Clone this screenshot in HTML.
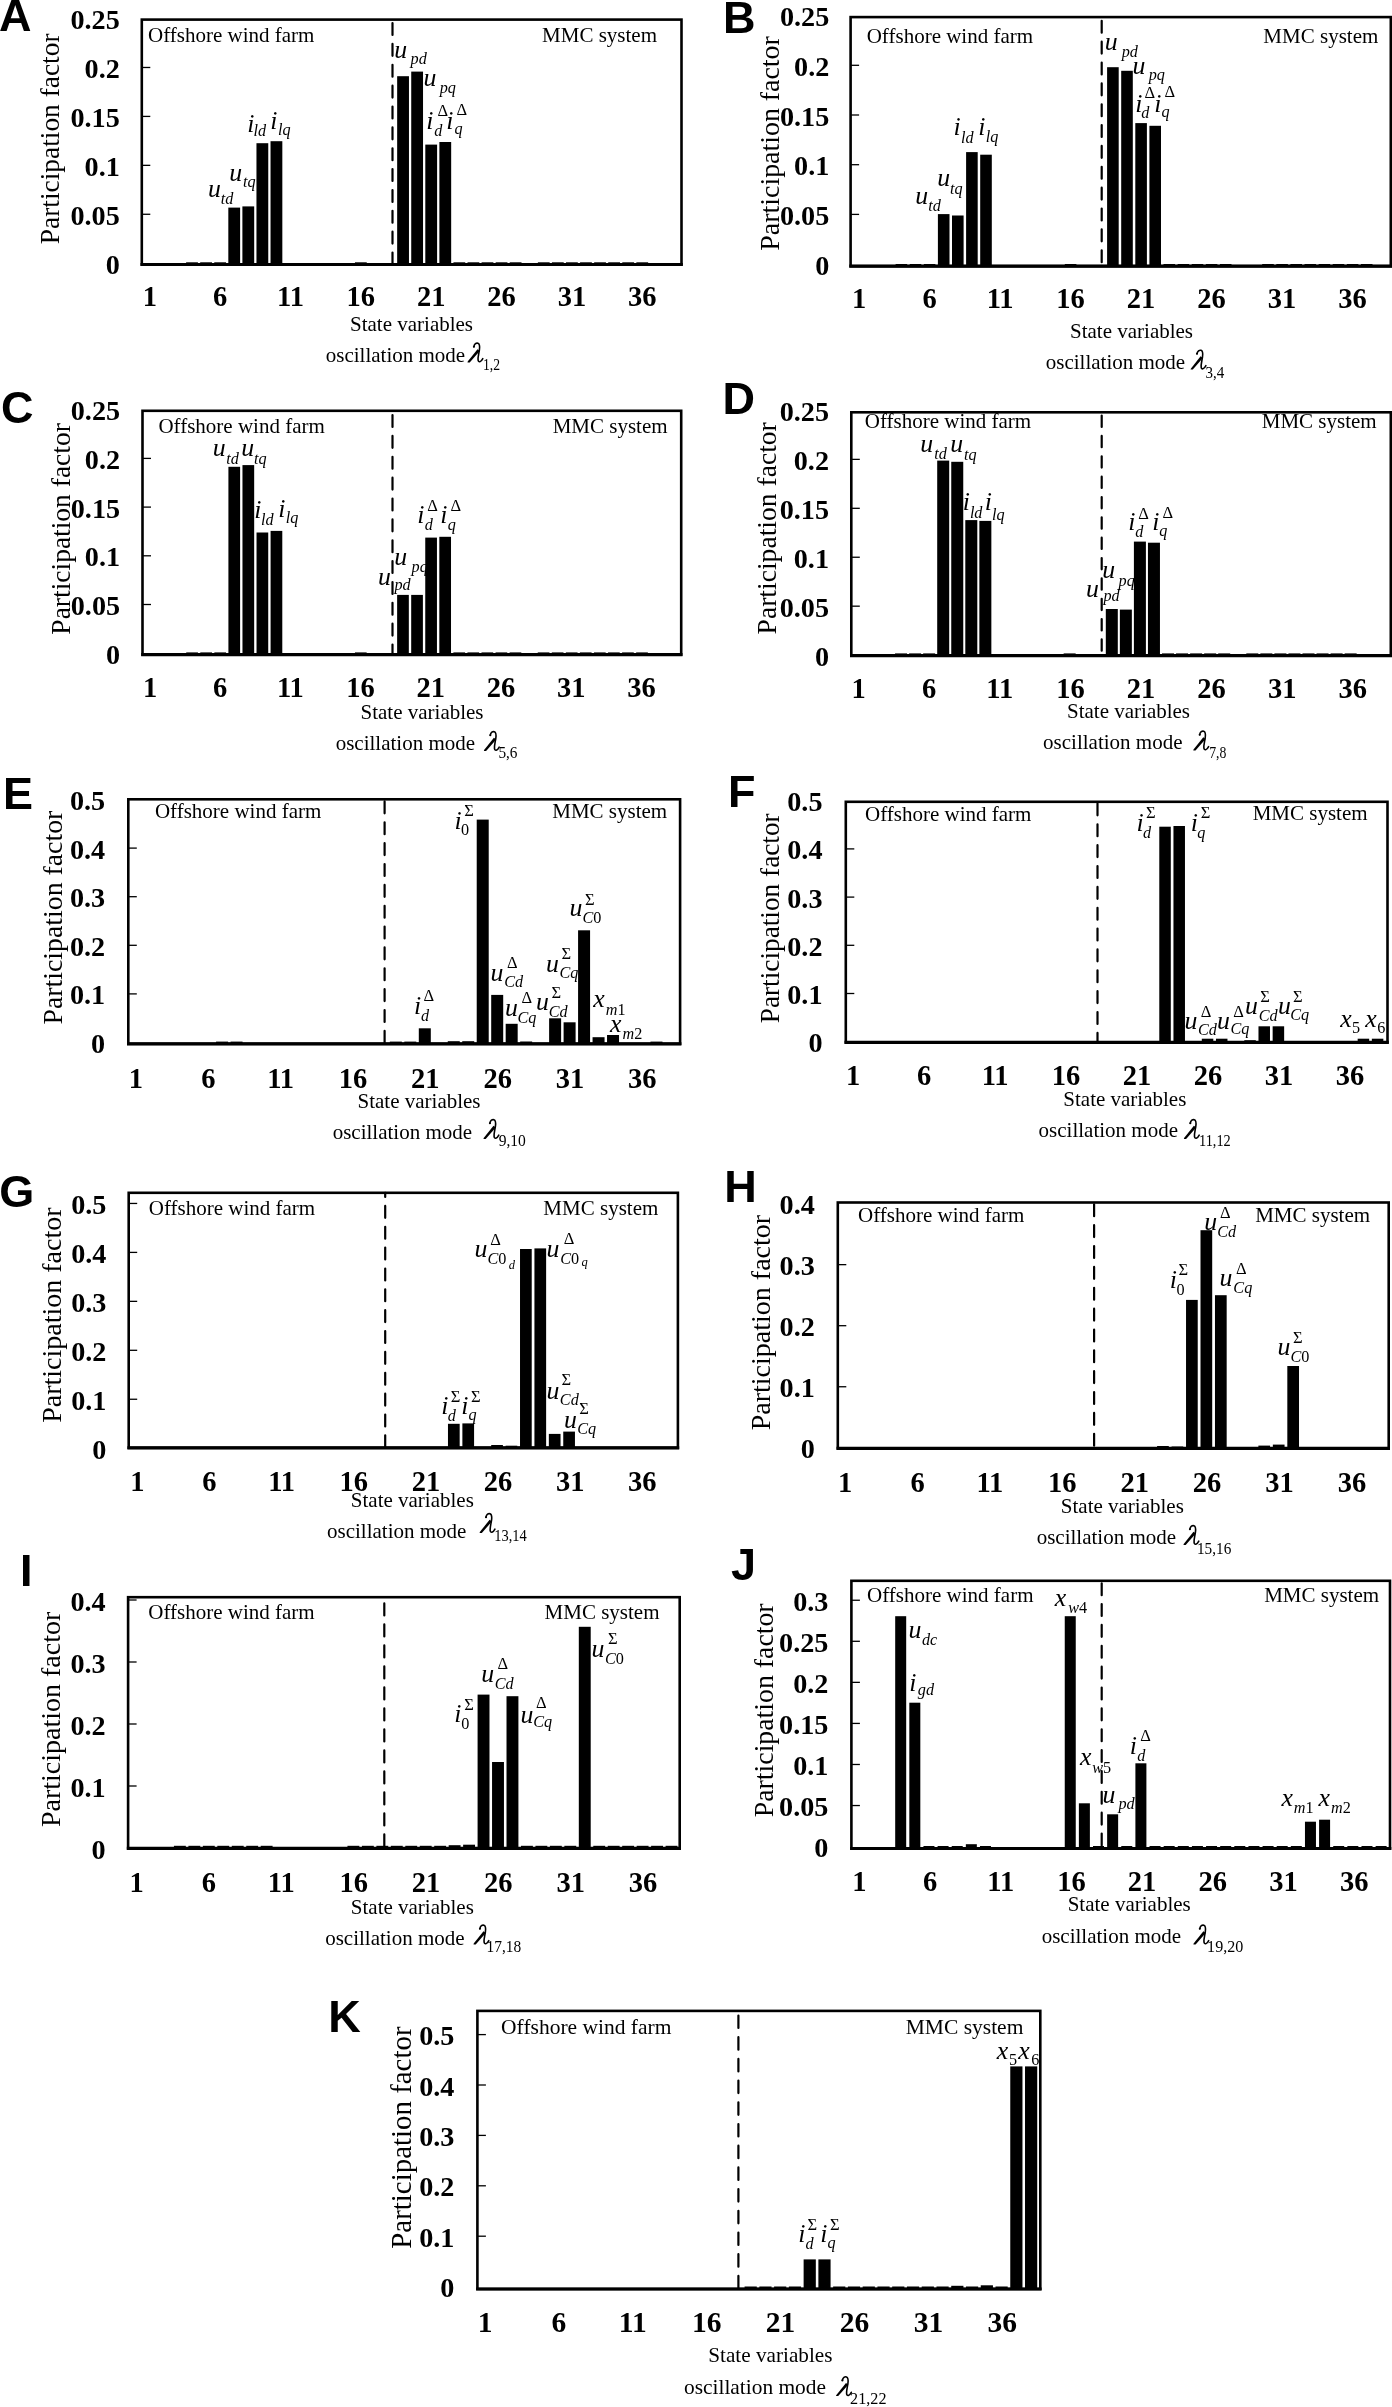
<!DOCTYPE html>
<html><head><meta charset="utf-8"><style>
html,body{margin:0;padding:0;background:#fff;width:1392px;height:2407px;overflow:hidden;}
svg{display:block;filter:grayscale(1);}
text{fill:#000;}
</style></head><body>
<svg width="1392" height="2407" viewBox="0 0 1392 2407">
<rect x="0" y="0" width="1392" height="2407" fill="#fff"/>
<rect x="228.32" y="207.60" width="11.80" height="56.90"/>
<rect x="242.39" y="206.40" width="11.80" height="58.10"/>
<rect x="256.46" y="143.20" width="11.80" height="121.30"/>
<rect x="270.53" y="141.20" width="11.80" height="123.30"/>
<rect x="397.16" y="76.20" width="11.80" height="188.30"/>
<rect x="411.23" y="71.60" width="11.80" height="192.90"/>
<rect x="425.30" y="144.60" width="11.80" height="119.90"/>
<rect x="439.37" y="142.00" width="11.80" height="122.50"/>
<rect x="186.11" y="262.30" width="11.80" height="2.20"/>
<rect x="200.18" y="262.30" width="11.80" height="2.20"/>
<rect x="214.25" y="262.30" width="11.80" height="2.20"/>
<rect x="354.95" y="262.30" width="11.80" height="2.20"/>
<rect x="453.44" y="262.30" width="11.80" height="2.20"/>
<rect x="467.51" y="262.30" width="11.80" height="2.20"/>
<rect x="481.58" y="262.30" width="11.80" height="2.20"/>
<rect x="495.65" y="262.30" width="11.80" height="2.20"/>
<rect x="509.72" y="262.30" width="11.80" height="2.20"/>
<rect x="537.86" y="262.30" width="11.80" height="2.20"/>
<rect x="551.93" y="262.30" width="11.80" height="2.20"/>
<rect x="566.00" y="262.30" width="11.80" height="2.20"/>
<rect x="580.07" y="262.30" width="11.80" height="2.20"/>
<rect x="594.14" y="262.30" width="11.80" height="2.20"/>
<rect x="608.21" y="262.30" width="11.80" height="2.20"/>
<rect x="622.28" y="262.30" width="11.80" height="2.20"/>
<rect x="636.35" y="262.30" width="11.80" height="2.20"/>
<rect x="141.80" y="19.60" width="539.70" height="244.90" fill="none" stroke="#000" stroke-width="2.6"/>
<line x1="140.50" y1="264.50" x2="682.80" y2="264.50" stroke="#000" stroke-width="3.2"/>
<text x="119.80" y="273.70" font-size="28.2" style="font-family:'Liberation Serif';font-weight:bold;" text-anchor="end">0</text>
<line x1="141.80" y1="214.27" x2="150.30" y2="214.27" stroke="#000" stroke-width="1.3"/>
<text x="119.80" y="224.77" font-size="28.2" style="font-family:'Liberation Serif';font-weight:bold;" text-anchor="end">0.05</text>
<line x1="141.80" y1="165.34" x2="150.30" y2="165.34" stroke="#000" stroke-width="1.3"/>
<text x="119.80" y="175.84" font-size="28.2" style="font-family:'Liberation Serif';font-weight:bold;" text-anchor="end">0.1</text>
<line x1="141.80" y1="116.41" x2="150.30" y2="116.41" stroke="#000" stroke-width="1.3"/>
<text x="119.80" y="126.91" font-size="28.2" style="font-family:'Liberation Serif';font-weight:bold;" text-anchor="end">0.15</text>
<line x1="141.80" y1="67.48" x2="150.30" y2="67.48" stroke="#000" stroke-width="1.3"/>
<text x="119.80" y="77.98" font-size="28.2" style="font-family:'Liberation Serif';font-weight:bold;" text-anchor="end">0.2</text>
<text x="119.80" y="29.05" font-size="28.2" style="font-family:'Liberation Serif';font-weight:bold;" text-anchor="end">0.25</text>
<text x="149.80" y="306.00" font-size="28.5" style="font-family:'Liberation Serif';font-weight:bold;" text-anchor="middle">1</text>
<text x="220.15" y="306.00" font-size="28.5" style="font-family:'Liberation Serif';font-weight:bold;" text-anchor="middle">6</text>
<text x="290.50" y="306.00" font-size="28.5" style="font-family:'Liberation Serif';font-weight:bold;" text-anchor="middle">11</text>
<text x="360.85" y="306.00" font-size="28.5" style="font-family:'Liberation Serif';font-weight:bold;" text-anchor="middle">16</text>
<text x="431.20" y="306.00" font-size="28.5" style="font-family:'Liberation Serif';font-weight:bold;" text-anchor="middle">21</text>
<text x="501.55" y="306.00" font-size="28.5" style="font-family:'Liberation Serif';font-weight:bold;" text-anchor="middle">26</text>
<text x="571.90" y="306.00" font-size="28.5" style="font-family:'Liberation Serif';font-weight:bold;" text-anchor="middle">31</text>
<text x="642.25" y="306.00" font-size="28.5" style="font-family:'Liberation Serif';font-weight:bold;" text-anchor="middle">36</text>
<line x1="392.50" y1="19.60" x2="392.50" y2="264.50" stroke="#000" stroke-width="2.2" stroke-linecap="round" stroke-dasharray="11.9 8.96" stroke-dashoffset="17.36"/>
<text x="-1.00" y="31.00" font-size="45" style="font-family:'Liberation Sans';font-weight:bold;">A</text>
<text transform="translate(59.30,138.80) rotate(-90)" x="0" y="0" font-size="27.4" text-anchor="middle" style="font-family:'Liberation Serif'">Participation factor</text>
<text x="148.00" y="42.00" font-size="21" style="font-family:'Liberation Serif';">Offshore wind farm</text>
<text x="657.00" y="42.00" font-size="21" style="font-family:'Liberation Serif';" text-anchor="end">MMC system</text>
<text x="350.00" y="331.00" font-size="21" style="font-family:'Liberation Serif';">State variables</text>
<text x="325.80" y="361.60" font-size="21" style="font-family:'Liberation Serif';">oscillation mode</text>
<g transform="translate(467.60,362.50) scale(1.000)"><path d="M 6.3 -15.9 C 6.7 -18.5, 8.7 -19.8, 10.3 -19.3 C 12.0 -18.7, 12.3 -16.0, 11.8 -12.6 C 11.2 -8.6, 10.1 -5.0, 10.5 -2.3 C 10.9 0.1, 13.2 -0.1, 15.2 -3.9" fill="none" stroke="#000" stroke-width="1.6" stroke-linecap="round"/><path d="M 9.9 -13.3 L 12.2 -11.5 L 2.1 -0.1 L -0.1 -0.1 L 0.1 -0.9 Z" fill="#000"/><circle cx="6.3" cy="-15.8" r="1.05" fill="#000"/></g>
<text x="483.00" y="369.60" font-size="16.5" style="font-family:'Liberation Serif';" textLength="17.1" lengthAdjust="spacingAndGlyphs">1,2</text>
<text x="208.11" y="196.50" font-size="25.8" style="font-family:'Liberation Serif';font-style:italic;">u</text>
<text x="220.85" y="203.70" font-size="16.2" style="font-family:'Liberation Serif';font-style:italic;">td</text>
<text x="229.31" y="180.50" font-size="25.8" style="font-family:'Liberation Serif';font-style:italic;">u</text>
<text x="243.05" y="186.50" font-size="16.2" style="font-family:'Liberation Serif';font-style:italic;">tq</text>
<text x="247.15" y="131.50" font-size="25.8" style="font-family:'Liberation Serif';font-style:italic;">i</text>
<text x="253.49" y="136.30" font-size="16.2" style="font-family:'Liberation Serif';font-style:italic;">ld</text>
<text x="270.25" y="128.50" font-size="25.8" style="font-family:'Liberation Serif';font-style:italic;">i</text>
<text x="278.09" y="135.30" font-size="16.2" style="font-family:'Liberation Serif';font-style:italic;">lq</text>
<text x="394.21" y="57.80" font-size="25.8" style="font-family:'Liberation Serif';font-style:italic;">u</text>
<text x="410.57" y="63.80" font-size="16.2" style="font-family:'Liberation Serif';font-style:italic;">pd</text>
<text x="423.41" y="86.00" font-size="25.8" style="font-family:'Liberation Serif';font-style:italic;">u</text>
<text x="439.77" y="93.00" font-size="16.2" style="font-family:'Liberation Serif';font-style:italic;">pq</text>
<text x="426.15" y="128.50" font-size="25.8" style="font-family:'Liberation Serif';font-style:italic;">i</text>
<text x="434.31" y="135.60" font-size="16.2" style="font-family:'Liberation Serif';font-style:italic;">d</text>
<text x="437.40" y="116.40" font-size="16.5" style="font-family:'Liberation Serif';">&#916;</text>
<text x="446.25" y="128.50" font-size="25.8" style="font-family:'Liberation Serif';font-style:italic;">i</text>
<text x="454.41" y="134.30" font-size="16.2" style="font-family:'Liberation Serif';font-style:italic;">q</text>
<text x="456.50" y="115.40" font-size="16.5" style="font-family:'Liberation Serif';">&#916;</text>
<rect x="937.90" y="214.10" width="11.60" height="52.10"/>
<rect x="952.00" y="215.50" width="11.60" height="50.70"/>
<rect x="966.10" y="152.10" width="11.60" height="114.10"/>
<rect x="980.20" y="154.70" width="11.60" height="111.50"/>
<rect x="1107.10" y="67.20" width="11.60" height="199.00"/>
<rect x="1121.20" y="70.80" width="11.60" height="195.40"/>
<rect x="1135.30" y="123.10" width="11.60" height="143.10"/>
<rect x="1149.40" y="125.80" width="11.60" height="140.40"/>
<rect x="895.60" y="264.00" width="11.60" height="2.20"/>
<rect x="909.70" y="264.00" width="11.60" height="2.20"/>
<rect x="923.80" y="264.00" width="11.60" height="2.20"/>
<rect x="1064.80" y="264.00" width="11.60" height="2.20"/>
<rect x="1163.50" y="264.00" width="11.60" height="2.20"/>
<rect x="1177.60" y="264.00" width="11.60" height="2.20"/>
<rect x="1191.70" y="264.00" width="11.60" height="2.20"/>
<rect x="1205.80" y="264.00" width="11.60" height="2.20"/>
<rect x="1219.90" y="264.00" width="11.60" height="2.20"/>
<rect x="1262.20" y="264.00" width="11.60" height="2.20"/>
<rect x="1276.30" y="264.00" width="11.60" height="2.20"/>
<rect x="1290.40" y="264.00" width="11.60" height="2.20"/>
<rect x="1304.50" y="264.00" width="11.60" height="2.20"/>
<rect x="1318.60" y="264.00" width="11.60" height="2.20"/>
<rect x="1332.70" y="264.00" width="11.60" height="2.20"/>
<rect x="1346.80" y="264.00" width="11.60" height="2.20"/>
<rect x="1360.90" y="264.00" width="11.60" height="2.20"/>
<rect x="850.60" y="17.10" width="540.20" height="249.10" fill="none" stroke="#000" stroke-width="2.6"/>
<line x1="849.30" y1="266.20" x2="1392.10" y2="266.20" stroke="#000" stroke-width="3.2"/>
<text x="829.30" y="274.60" font-size="28.2" style="font-family:'Liberation Serif';font-weight:bold;" text-anchor="end">0</text>
<line x1="850.60" y1="214.40" x2="859.10" y2="214.40" stroke="#000" stroke-width="1.3"/>
<text x="829.30" y="224.90" font-size="28.2" style="font-family:'Liberation Serif';font-weight:bold;" text-anchor="end">0.05</text>
<line x1="850.60" y1="164.70" x2="859.10" y2="164.70" stroke="#000" stroke-width="1.3"/>
<text x="829.30" y="175.20" font-size="28.2" style="font-family:'Liberation Serif';font-weight:bold;" text-anchor="end">0.1</text>
<line x1="850.60" y1="115.00" x2="859.10" y2="115.00" stroke="#000" stroke-width="1.3"/>
<text x="829.30" y="125.50" font-size="28.2" style="font-family:'Liberation Serif';font-weight:bold;" text-anchor="end">0.15</text>
<line x1="850.60" y1="65.30" x2="859.10" y2="65.30" stroke="#000" stroke-width="1.3"/>
<text x="829.30" y="75.80" font-size="28.2" style="font-family:'Liberation Serif';font-weight:bold;" text-anchor="end">0.2</text>
<text x="829.30" y="26.10" font-size="28.2" style="font-family:'Liberation Serif';font-weight:bold;" text-anchor="end">0.25</text>
<text x="859.10" y="307.50" font-size="28.5" style="font-family:'Liberation Serif';font-weight:bold;" text-anchor="middle">1</text>
<text x="929.60" y="307.50" font-size="28.5" style="font-family:'Liberation Serif';font-weight:bold;" text-anchor="middle">6</text>
<text x="1000.10" y="307.50" font-size="28.5" style="font-family:'Liberation Serif';font-weight:bold;" text-anchor="middle">11</text>
<text x="1070.60" y="307.50" font-size="28.5" style="font-family:'Liberation Serif';font-weight:bold;" text-anchor="middle">16</text>
<text x="1141.10" y="307.50" font-size="28.5" style="font-family:'Liberation Serif';font-weight:bold;" text-anchor="middle">21</text>
<text x="1211.60" y="307.50" font-size="28.5" style="font-family:'Liberation Serif';font-weight:bold;" text-anchor="middle">26</text>
<text x="1282.10" y="307.50" font-size="28.5" style="font-family:'Liberation Serif';font-weight:bold;" text-anchor="middle">31</text>
<text x="1352.60" y="307.50" font-size="28.5" style="font-family:'Liberation Serif';font-weight:bold;" text-anchor="middle">36</text>
<line x1="1101.70" y1="17.10" x2="1101.70" y2="266.20" stroke="#000" stroke-width="2.2" stroke-linecap="round" stroke-dasharray="11.9 8.96" stroke-dashoffset="17.16"/>
<text x="722.90" y="33.00" font-size="45" style="font-family:'Liberation Sans';font-weight:bold;">B</text>
<text transform="translate(778.90,143.40) rotate(-90)" x="0" y="0" font-size="27.9" text-anchor="middle" style="font-family:'Liberation Serif'">Participation factor</text>
<text x="866.70" y="43.40" font-size="21" style="font-family:'Liberation Serif';">Offshore wind farm</text>
<text x="1378.30" y="43.30" font-size="21" style="font-family:'Liberation Serif';" text-anchor="end">MMC system</text>
<text x="1070.00" y="337.50" font-size="21" style="font-family:'Liberation Serif';">State variables</text>
<text x="1045.80" y="368.50" font-size="21" style="font-family:'Liberation Serif';">oscillation mode</text>
<g transform="translate(1190.70,369.60) scale(1.000)"><path d="M 6.3 -15.9 C 6.7 -18.5, 8.7 -19.8, 10.3 -19.3 C 12.0 -18.7, 12.3 -16.0, 11.8 -12.6 C 11.2 -8.6, 10.1 -5.0, 10.5 -2.3 C 10.9 0.1, 13.2 -0.1, 15.2 -3.9" fill="none" stroke="#000" stroke-width="1.6" stroke-linecap="round"/><path d="M 9.9 -13.3 L 12.2 -11.5 L 2.1 -0.1 L -0.1 -0.1 L 0.1 -0.9 Z" fill="#000"/><circle cx="6.3" cy="-15.8" r="1.05" fill="#000"/></g>
<text x="1205.50" y="378.00" font-size="16.5" style="font-family:'Liberation Serif';" textLength="18.8" lengthAdjust="spacingAndGlyphs">3,4</text>
<text x="915.21" y="203.60" font-size="25.8" style="font-family:'Liberation Serif';font-style:italic;">u</text>
<text x="928.35" y="210.80" font-size="16.2" style="font-family:'Liberation Serif';font-style:italic;">td</text>
<text x="937.31" y="186.00" font-size="25.8" style="font-family:'Liberation Serif';font-style:italic;">u</text>
<text x="950.05" y="194.00" font-size="16.2" style="font-family:'Liberation Serif';font-style:italic;">tq</text>
<text x="953.55" y="135.40" font-size="25.8" style="font-family:'Liberation Serif';font-style:italic;">i</text>
<text x="960.99" y="142.50" font-size="16.2" style="font-family:'Liberation Serif';font-style:italic;">ld</text>
<text x="978.35" y="134.60" font-size="25.8" style="font-family:'Liberation Serif';font-style:italic;">i</text>
<text x="985.69" y="141.50" font-size="16.2" style="font-family:'Liberation Serif';font-style:italic;">lq</text>
<text x="1104.71" y="49.80" font-size="25.8" style="font-family:'Liberation Serif';font-style:italic;">u</text>
<text x="1121.67" y="57.00" font-size="16.2" style="font-family:'Liberation Serif';font-style:italic;">pd</text>
<text x="1132.51" y="73.60" font-size="25.8" style="font-family:'Liberation Serif';font-style:italic;">u</text>
<text x="1148.77" y="80.00" font-size="16.2" style="font-family:'Liberation Serif';font-style:italic;">pq</text>
<text x="1135.25" y="112.30" font-size="25.8" style="font-family:'Liberation Serif';font-style:italic;">i</text>
<text x="1141.31" y="118.30" font-size="16.2" style="font-family:'Liberation Serif';font-style:italic;">d</text>
<text x="1144.40" y="98.00" font-size="16.5" style="font-family:'Liberation Serif';">&#916;</text>
<text x="1154.35" y="111.50" font-size="25.8" style="font-family:'Liberation Serif';font-style:italic;">i</text>
<text x="1161.41" y="117.00" font-size="16.2" style="font-family:'Liberation Serif';font-style:italic;">q</text>
<text x="1164.50" y="97.40" font-size="16.5" style="font-family:'Liberation Serif';">&#916;</text>
<rect x="228.41" y="466.80" width="11.70" height="187.80"/>
<rect x="242.47" y="465.10" width="11.70" height="189.50"/>
<rect x="256.53" y="532.50" width="11.70" height="122.10"/>
<rect x="270.59" y="530.90" width="11.70" height="123.70"/>
<rect x="397.13" y="594.90" width="11.70" height="59.70"/>
<rect x="411.19" y="594.90" width="11.70" height="59.70"/>
<rect x="425.25" y="537.60" width="11.70" height="117.00"/>
<rect x="439.31" y="536.80" width="11.70" height="117.80"/>
<rect x="186.23" y="652.40" width="11.70" height="2.20"/>
<rect x="200.29" y="652.40" width="11.70" height="2.20"/>
<rect x="214.35" y="652.40" width="11.70" height="2.20"/>
<rect x="354.95" y="652.40" width="11.70" height="2.20"/>
<rect x="453.37" y="652.40" width="11.70" height="2.20"/>
<rect x="467.43" y="652.40" width="11.70" height="2.20"/>
<rect x="481.49" y="652.40" width="11.70" height="2.20"/>
<rect x="495.55" y="652.40" width="11.70" height="2.20"/>
<rect x="509.61" y="652.40" width="11.70" height="2.20"/>
<rect x="537.73" y="652.40" width="11.70" height="2.20"/>
<rect x="551.79" y="652.40" width="11.70" height="2.20"/>
<rect x="565.85" y="652.40" width="11.70" height="2.20"/>
<rect x="579.91" y="652.40" width="11.70" height="2.20"/>
<rect x="593.97" y="652.40" width="11.70" height="2.20"/>
<rect x="608.03" y="652.40" width="11.70" height="2.20"/>
<rect x="622.09" y="652.40" width="11.70" height="2.20"/>
<rect x="636.15" y="652.40" width="11.70" height="2.20"/>
<rect x="142.50" y="410.80" width="538.70" height="243.80" fill="none" stroke="#000" stroke-width="2.6"/>
<line x1="141.20" y1="654.60" x2="682.50" y2="654.60" stroke="#000" stroke-width="3.2"/>
<text x="120.10" y="663.70" font-size="28.2" style="font-family:'Liberation Serif';font-weight:bold;" text-anchor="end">0</text>
<line x1="142.50" y1="604.50" x2="151.00" y2="604.50" stroke="#000" stroke-width="1.3"/>
<text x="120.10" y="615.00" font-size="28.2" style="font-family:'Liberation Serif';font-weight:bold;" text-anchor="end">0.05</text>
<line x1="142.50" y1="555.80" x2="151.00" y2="555.80" stroke="#000" stroke-width="1.3"/>
<text x="120.10" y="566.30" font-size="28.2" style="font-family:'Liberation Serif';font-weight:bold;" text-anchor="end">0.1</text>
<line x1="142.50" y1="507.10" x2="151.00" y2="507.10" stroke="#000" stroke-width="1.3"/>
<text x="120.10" y="517.60" font-size="28.2" style="font-family:'Liberation Serif';font-weight:bold;" text-anchor="end">0.15</text>
<line x1="142.50" y1="458.40" x2="151.00" y2="458.40" stroke="#000" stroke-width="1.3"/>
<text x="120.10" y="468.90" font-size="28.2" style="font-family:'Liberation Serif';font-weight:bold;" text-anchor="end">0.2</text>
<text x="120.10" y="420.20" font-size="28.2" style="font-family:'Liberation Serif';font-weight:bold;" text-anchor="end">0.25</text>
<text x="150.00" y="697.00" font-size="28.5" style="font-family:'Liberation Serif';font-weight:bold;" text-anchor="middle">1</text>
<text x="220.20" y="697.00" font-size="28.5" style="font-family:'Liberation Serif';font-weight:bold;" text-anchor="middle">6</text>
<text x="290.40" y="697.00" font-size="28.5" style="font-family:'Liberation Serif';font-weight:bold;" text-anchor="middle">11</text>
<text x="360.60" y="697.00" font-size="28.5" style="font-family:'Liberation Serif';font-weight:bold;" text-anchor="middle">16</text>
<text x="430.80" y="697.00" font-size="28.5" style="font-family:'Liberation Serif';font-weight:bold;" text-anchor="middle">21</text>
<text x="501.00" y="697.00" font-size="28.5" style="font-family:'Liberation Serif';font-weight:bold;" text-anchor="middle">26</text>
<text x="571.20" y="697.00" font-size="28.5" style="font-family:'Liberation Serif';font-weight:bold;" text-anchor="middle">31</text>
<text x="641.40" y="697.00" font-size="28.5" style="font-family:'Liberation Serif';font-weight:bold;" text-anchor="middle">36</text>
<line x1="392.50" y1="410.80" x2="392.50" y2="654.60" stroke="#000" stroke-width="2.2" stroke-linecap="round" stroke-dasharray="11.9 8.96" stroke-dashoffset="16.56"/>
<text x="1.00" y="422.60" font-size="45" style="font-family:'Liberation Sans';font-weight:bold;">C</text>
<text transform="translate(69.60,528.90) rotate(-90)" x="0" y="0" font-size="27.5" text-anchor="middle" style="font-family:'Liberation Serif'">Participation factor</text>
<text x="158.40" y="432.60" font-size="21" style="font-family:'Liberation Serif';">Offshore wind farm</text>
<text x="667.60" y="433.20" font-size="21" style="font-family:'Liberation Serif';" text-anchor="end">MMC system</text>
<text x="360.50" y="718.70" font-size="21" style="font-family:'Liberation Serif';">State variables</text>
<text x="335.70" y="749.60" font-size="21" style="font-family:'Liberation Serif';">oscillation mode</text>
<g transform="translate(484.00,751.00) scale(1.000)"><path d="M 6.3 -15.9 C 6.7 -18.5, 8.7 -19.8, 10.3 -19.3 C 12.0 -18.7, 12.3 -16.0, 11.8 -12.6 C 11.2 -8.6, 10.1 -5.0, 10.5 -2.3 C 10.9 0.1, 13.2 -0.1, 15.2 -3.9" fill="none" stroke="#000" stroke-width="1.6" stroke-linecap="round"/><path d="M 9.9 -13.3 L 12.2 -11.5 L 2.1 -0.1 L -0.1 -0.1 L 0.1 -0.9 Z" fill="#000"/><circle cx="6.3" cy="-15.8" r="1.05" fill="#000"/></g>
<text x="498.40" y="758.00" font-size="16.5" style="font-family:'Liberation Serif';" textLength="19.1" lengthAdjust="spacingAndGlyphs">5,6</text>
<text x="212.81" y="456.20" font-size="25.8" style="font-family:'Liberation Serif';font-style:italic;">u</text>
<text x="226.35" y="464.30" font-size="16.2" style="font-family:'Liberation Serif';font-style:italic;">td</text>
<text x="241.31" y="456.00" font-size="25.8" style="font-family:'Liberation Serif';font-style:italic;">u</text>
<text x="254.05" y="463.80" font-size="16.2" style="font-family:'Liberation Serif';font-style:italic;">tq</text>
<text x="254.15" y="517.80" font-size="25.8" style="font-family:'Liberation Serif';font-style:italic;">i</text>
<text x="260.99" y="525.30" font-size="16.2" style="font-family:'Liberation Serif';font-style:italic;">ld</text>
<text x="278.35" y="516.80" font-size="25.8" style="font-family:'Liberation Serif';font-style:italic;">i</text>
<text x="285.69" y="523.00" font-size="16.2" style="font-family:'Liberation Serif';font-style:italic;">lq</text>
<text x="378.11" y="584.50" font-size="25.8" style="font-family:'Liberation Serif';font-style:italic;">u</text>
<text x="394.47" y="590.00" font-size="16.2" style="font-family:'Liberation Serif';font-style:italic;">pd</text>
<text x="394.21" y="564.50" font-size="25.8" style="font-family:'Liberation Serif';font-style:italic;">u</text>
<text x="411.57" y="572.00" font-size="16.2" style="font-family:'Liberation Serif';font-style:italic;">pq</text>
<text x="417.15" y="523.30" font-size="25.8" style="font-family:'Liberation Serif';font-style:italic;">i</text>
<text x="424.81" y="530.30" font-size="16.2" style="font-family:'Liberation Serif';font-style:italic;">d</text>
<text x="427.30" y="511.40" font-size="16.5" style="font-family:'Liberation Serif';">&#916;</text>
<text x="440.25" y="523.30" font-size="25.8" style="font-family:'Liberation Serif';font-style:italic;">i</text>
<text x="447.71" y="530.00" font-size="16.2" style="font-family:'Liberation Serif';font-style:italic;">q</text>
<text x="450.50" y="511.40" font-size="16.5" style="font-family:'Liberation Serif';">&#916;</text>
<rect x="937.20" y="460.60" width="12.00" height="195.00"/>
<rect x="951.25" y="461.80" width="12.00" height="193.80"/>
<rect x="965.30" y="520.10" width="12.00" height="135.50"/>
<rect x="979.35" y="520.90" width="12.00" height="134.70"/>
<rect x="1105.80" y="609.00" width="12.00" height="46.60"/>
<rect x="1119.85" y="609.60" width="12.00" height="46.00"/>
<rect x="1133.90" y="541.60" width="12.00" height="114.00"/>
<rect x="1147.95" y="542.70" width="12.00" height="112.90"/>
<rect x="895.05" y="653.40" width="12.00" height="2.20"/>
<rect x="909.10" y="653.40" width="12.00" height="2.20"/>
<rect x="923.15" y="653.40" width="12.00" height="2.20"/>
<rect x="1063.65" y="653.40" width="12.00" height="2.20"/>
<rect x="1162.00" y="653.40" width="12.00" height="2.20"/>
<rect x="1176.05" y="653.40" width="12.00" height="2.20"/>
<rect x="1190.10" y="653.40" width="12.00" height="2.20"/>
<rect x="1204.15" y="653.40" width="12.00" height="2.20"/>
<rect x="1218.20" y="653.40" width="12.00" height="2.20"/>
<rect x="1246.30" y="653.40" width="12.00" height="2.20"/>
<rect x="1260.35" y="653.40" width="12.00" height="2.20"/>
<rect x="1274.40" y="653.40" width="12.00" height="2.20"/>
<rect x="1288.45" y="653.40" width="12.00" height="2.20"/>
<rect x="1302.50" y="653.40" width="12.00" height="2.20"/>
<rect x="1316.55" y="653.40" width="12.00" height="2.20"/>
<rect x="1330.60" y="653.40" width="12.00" height="2.20"/>
<rect x="1344.65" y="653.40" width="12.00" height="2.20"/>
<rect x="851.30" y="412.30" width="539.50" height="243.30" fill="none" stroke="#000" stroke-width="2.6"/>
<line x1="850.00" y1="655.60" x2="1392.10" y2="655.60" stroke="#000" stroke-width="3.2"/>
<text x="829.00" y="665.60" font-size="28.2" style="font-family:'Liberation Serif';font-weight:bold;" text-anchor="end">0</text>
<line x1="851.30" y1="606.17" x2="859.80" y2="606.17" stroke="#000" stroke-width="1.3"/>
<text x="829.00" y="616.67" font-size="28.2" style="font-family:'Liberation Serif';font-weight:bold;" text-anchor="end">0.05</text>
<line x1="851.30" y1="557.24" x2="859.80" y2="557.24" stroke="#000" stroke-width="1.3"/>
<text x="829.00" y="567.74" font-size="28.2" style="font-family:'Liberation Serif';font-weight:bold;" text-anchor="end">0.1</text>
<line x1="851.30" y1="508.31" x2="859.80" y2="508.31" stroke="#000" stroke-width="1.3"/>
<text x="829.00" y="518.81" font-size="28.2" style="font-family:'Liberation Serif';font-weight:bold;" text-anchor="end">0.15</text>
<line x1="851.30" y1="459.38" x2="859.80" y2="459.38" stroke="#000" stroke-width="1.3"/>
<text x="829.00" y="469.88" font-size="28.2" style="font-family:'Liberation Serif';font-weight:bold;" text-anchor="end">0.2</text>
<text x="829.00" y="420.95" font-size="28.2" style="font-family:'Liberation Serif';font-weight:bold;" text-anchor="end">0.25</text>
<text x="858.60" y="697.50" font-size="28.5" style="font-family:'Liberation Serif';font-weight:bold;" text-anchor="middle">1</text>
<text x="929.20" y="697.50" font-size="28.5" style="font-family:'Liberation Serif';font-weight:bold;" text-anchor="middle">6</text>
<text x="999.80" y="697.50" font-size="28.5" style="font-family:'Liberation Serif';font-weight:bold;" text-anchor="middle">11</text>
<text x="1070.40" y="697.50" font-size="28.5" style="font-family:'Liberation Serif';font-weight:bold;" text-anchor="middle">16</text>
<text x="1141.00" y="697.50" font-size="28.5" style="font-family:'Liberation Serif';font-weight:bold;" text-anchor="middle">21</text>
<text x="1211.60" y="697.50" font-size="28.5" style="font-family:'Liberation Serif';font-weight:bold;" text-anchor="middle">26</text>
<text x="1282.20" y="697.50" font-size="28.5" style="font-family:'Liberation Serif';font-weight:bold;" text-anchor="middle">31</text>
<text x="1352.80" y="697.50" font-size="28.5" style="font-family:'Liberation Serif';font-weight:bold;" text-anchor="middle">36</text>
<line x1="1101.70" y1="412.30" x2="1101.70" y2="655.60" stroke="#000" stroke-width="2.2" stroke-linecap="round" stroke-dasharray="11.3 9.05" stroke-dashoffset="17.05"/>
<text x="722.60" y="413.50" font-size="45" style="font-family:'Liberation Sans';font-weight:bold;">D</text>
<text transform="translate(776.30,528.30) rotate(-90)" x="0" y="0" font-size="27.6" text-anchor="middle" style="font-family:'Liberation Serif'">Participation factor</text>
<text x="864.80" y="428.40" font-size="21" style="font-family:'Liberation Serif';">Offshore wind farm</text>
<text x="1376.70" y="428.40" font-size="21" style="font-family:'Liberation Serif';" text-anchor="end">MMC system</text>
<text x="1067.00" y="717.50" font-size="21" style="font-family:'Liberation Serif';">State variables</text>
<text x="1043.10" y="749.10" font-size="21" style="font-family:'Liberation Serif';">oscillation mode</text>
<g transform="translate(1193.40,750.50) scale(1.000)"><path d="M 6.3 -15.9 C 6.7 -18.5, 8.7 -19.8, 10.3 -19.3 C 12.0 -18.7, 12.3 -16.0, 11.8 -12.6 C 11.2 -8.6, 10.1 -5.0, 10.5 -2.3 C 10.9 0.1, 13.2 -0.1, 15.2 -3.9" fill="none" stroke="#000" stroke-width="1.6" stroke-linecap="round"/><path d="M 9.9 -13.3 L 12.2 -11.5 L 2.1 -0.1 L -0.1 -0.1 L 0.1 -0.9 Z" fill="#000"/><circle cx="6.3" cy="-15.8" r="1.05" fill="#000"/></g>
<text x="1209.20" y="757.50" font-size="16.5" style="font-family:'Liberation Serif';" textLength="17.2" lengthAdjust="spacingAndGlyphs">7,8</text>
<text x="920.21" y="451.80" font-size="25.8" style="font-family:'Liberation Serif';font-style:italic;">u</text>
<text x="934.25" y="459.00" font-size="16.2" style="font-family:'Liberation Serif';font-style:italic;">td</text>
<text x="950.31" y="452.00" font-size="25.8" style="font-family:'Liberation Serif';font-style:italic;">u</text>
<text x="964.05" y="459.50" font-size="16.2" style="font-family:'Liberation Serif';font-style:italic;">tq</text>
<text x="962.75" y="510.30" font-size="25.8" style="font-family:'Liberation Serif';font-style:italic;">i</text>
<text x="969.89" y="518.30" font-size="16.2" style="font-family:'Liberation Serif';font-style:italic;">ld</text>
<text x="984.85" y="510.00" font-size="25.8" style="font-family:'Liberation Serif';font-style:italic;">i</text>
<text x="992.09" y="519.50" font-size="16.2" style="font-family:'Liberation Serif';font-style:italic;">lq</text>
<text x="1086.11" y="596.70" font-size="25.8" style="font-family:'Liberation Serif';font-style:italic;">u</text>
<text x="1103.47" y="601.00" font-size="16.2" style="font-family:'Liberation Serif';font-style:italic;">pd</text>
<text x="1102.21" y="577.60" font-size="25.8" style="font-family:'Liberation Serif';font-style:italic;">u</text>
<text x="1118.57" y="585.50" font-size="16.2" style="font-family:'Liberation Serif';font-style:italic;">pq</text>
<text x="1128.15" y="530.40" font-size="25.8" style="font-family:'Liberation Serif';font-style:italic;">i</text>
<text x="1135.21" y="537.40" font-size="16.2" style="font-family:'Liberation Serif';font-style:italic;">d</text>
<text x="1138.30" y="518.50" font-size="16.5" style="font-family:'Liberation Serif';">&#916;</text>
<text x="1152.25" y="530.40" font-size="25.8" style="font-family:'Liberation Serif';font-style:italic;">i</text>
<text x="1159.31" y="536.00" font-size="16.2" style="font-family:'Liberation Serif';font-style:italic;">q</text>
<text x="1162.50" y="517.50" font-size="16.5" style="font-family:'Liberation Serif';">&#916;</text>
<rect x="418.80" y="1028.30" width="12.00" height="15.50"/>
<rect x="447.76" y="1041.20" width="12.00" height="2.60"/>
<rect x="462.24" y="1041.20" width="12.00" height="2.60"/>
<rect x="476.72" y="819.60" width="12.00" height="224.20"/>
<rect x="491.20" y="994.90" width="12.00" height="48.90"/>
<rect x="505.68" y="1023.80" width="12.00" height="20.00"/>
<rect x="520.16" y="1041.50" width="12.00" height="2.30"/>
<rect x="549.12" y="1018.30" width="12.00" height="25.50"/>
<rect x="563.60" y="1022.30" width="12.00" height="21.50"/>
<rect x="578.08" y="930.30" width="12.00" height="113.50"/>
<rect x="592.56" y="1037.20" width="12.00" height="6.60"/>
<rect x="607.04" y="1035.00" width="12.00" height="8.80"/>
<rect x="216.08" y="1041.60" width="12.00" height="2.20"/>
<rect x="230.56" y="1041.60" width="12.00" height="2.20"/>
<rect x="389.84" y="1041.60" width="12.00" height="2.20"/>
<rect x="404.32" y="1041.60" width="12.00" height="2.20"/>
<rect x="650.48" y="1041.60" width="12.00" height="2.20"/>
<rect x="128.30" y="799.30" width="551.80" height="244.50" fill="none" stroke="#000" stroke-width="2.6"/>
<line x1="127.00" y1="1043.80" x2="681.40" y2="1043.80" stroke="#000" stroke-width="3.2"/>
<text x="105.20" y="1053.00" font-size="28.2" style="font-family:'Liberation Serif';font-weight:bold;" text-anchor="end">0</text>
<line x1="128.30" y1="993.90" x2="136.80" y2="993.90" stroke="#000" stroke-width="1.3"/>
<text x="105.20" y="1004.40" font-size="28.2" style="font-family:'Liberation Serif';font-weight:bold;" text-anchor="end">0.1</text>
<line x1="128.30" y1="945.30" x2="136.80" y2="945.30" stroke="#000" stroke-width="1.3"/>
<text x="105.20" y="955.80" font-size="28.2" style="font-family:'Liberation Serif';font-weight:bold;" text-anchor="end">0.2</text>
<line x1="128.30" y1="896.70" x2="136.80" y2="896.70" stroke="#000" stroke-width="1.3"/>
<text x="105.20" y="907.20" font-size="28.2" style="font-family:'Liberation Serif';font-weight:bold;" text-anchor="end">0.3</text>
<line x1="128.30" y1="848.10" x2="136.80" y2="848.10" stroke="#000" stroke-width="1.3"/>
<text x="105.20" y="858.60" font-size="28.2" style="font-family:'Liberation Serif';font-weight:bold;" text-anchor="end">0.4</text>
<text x="105.20" y="810.00" font-size="28.2" style="font-family:'Liberation Serif';font-weight:bold;" text-anchor="end">0.5</text>
<text x="135.90" y="1087.50" font-size="28.5" style="font-family:'Liberation Serif';font-weight:bold;" text-anchor="middle">1</text>
<text x="208.25" y="1087.50" font-size="28.5" style="font-family:'Liberation Serif';font-weight:bold;" text-anchor="middle">6</text>
<text x="280.60" y="1087.50" font-size="28.5" style="font-family:'Liberation Serif';font-weight:bold;" text-anchor="middle">11</text>
<text x="352.95" y="1087.50" font-size="28.5" style="font-family:'Liberation Serif';font-weight:bold;" text-anchor="middle">16</text>
<text x="425.30" y="1087.50" font-size="28.5" style="font-family:'Liberation Serif';font-weight:bold;" text-anchor="middle">21</text>
<text x="497.65" y="1087.50" font-size="28.5" style="font-family:'Liberation Serif';font-weight:bold;" text-anchor="middle">26</text>
<text x="570.00" y="1087.50" font-size="28.5" style="font-family:'Liberation Serif';font-weight:bold;" text-anchor="middle">31</text>
<text x="642.35" y="1087.50" font-size="28.5" style="font-family:'Liberation Serif';font-weight:bold;" text-anchor="middle">36</text>
<line x1="384.60" y1="799.30" x2="384.60" y2="1043.80" stroke="#000" stroke-width="2.2" stroke-linecap="round" stroke-dasharray="11.9 8.96" stroke-dashoffset="18.72"/>
<text x="3.00" y="809.20" font-size="45" style="font-family:'Liberation Sans';font-weight:bold;">E</text>
<text transform="translate(62.00,917.60) rotate(-90)" x="0" y="0" font-size="27.8" text-anchor="middle" style="font-family:'Liberation Serif'">Participation factor</text>
<text x="154.90" y="817.80" font-size="21" style="font-family:'Liberation Serif';">Offshore wind farm</text>
<text x="667.20" y="817.80" font-size="21" style="font-family:'Liberation Serif';" text-anchor="end">MMC system</text>
<text x="357.50" y="1107.90" font-size="21" style="font-family:'Liberation Serif';">State variables</text>
<text x="332.70" y="1139.00" font-size="21" style="font-family:'Liberation Serif';">oscillation mode</text>
<g transform="translate(483.60,1139.00) scale(1.000)"><path d="M 6.3 -15.9 C 6.7 -18.5, 8.7 -19.8, 10.3 -19.3 C 12.0 -18.7, 12.3 -16.0, 11.8 -12.6 C 11.2 -8.6, 10.1 -5.0, 10.5 -2.3 C 10.9 0.1, 13.2 -0.1, 15.2 -3.9" fill="none" stroke="#000" stroke-width="1.6" stroke-linecap="round"/><path d="M 9.9 -13.3 L 12.2 -11.5 L 2.1 -0.1 L -0.1 -0.1 L 0.1 -0.9 Z" fill="#000"/><circle cx="6.3" cy="-15.8" r="1.05" fill="#000"/></g>
<text x="498.70" y="1146.00" font-size="16.5" style="font-family:'Liberation Serif';" textLength="27.2" lengthAdjust="spacingAndGlyphs">9,10</text>
<text x="414.05" y="1013.60" font-size="25.8" style="font-family:'Liberation Serif';font-style:italic;">i</text>
<text x="421.11" y="1021.40" font-size="16.2" style="font-family:'Liberation Serif';font-style:italic;">d</text>
<text x="423.40" y="1000.90" font-size="16.5" style="font-family:'Liberation Serif';">&#916;</text>
<text x="454.55" y="828.80" font-size="25.8" style="font-family:'Liberation Serif';font-style:italic;">i</text>
<text x="461.05" y="835.00" font-size="16.2" style="font-family:'Liberation Serif';font-style:italic;"><tspan style="font-style:normal">0</tspan></text>
<text x="464.20" y="815.60" font-size="16.5" style="font-family:'Liberation Serif';">&#931;</text>
<text x="490.51" y="980.50" font-size="25.8" style="font-family:'Liberation Serif';font-style:italic;">u</text>
<text x="504.13" y="987.30" font-size="16.2" style="font-family:'Liberation Serif';font-style:italic;">Cd</text>
<text x="507.00" y="968.20" font-size="16.5" style="font-family:'Liberation Serif';">&#916;</text>
<text x="504.91" y="1016.30" font-size="25.8" style="font-family:'Liberation Serif';font-style:italic;">u</text>
<text x="517.53" y="1022.50" font-size="16.2" style="font-family:'Liberation Serif';font-style:italic;">Cq</text>
<text x="521.40" y="1002.70" font-size="16.5" style="font-family:'Liberation Serif';">&#916;</text>
<text x="536.11" y="1010.30" font-size="25.8" style="font-family:'Liberation Serif';font-style:italic;">u</text>
<text x="548.73" y="1017.00" font-size="16.2" style="font-family:'Liberation Serif';font-style:italic;">Cd</text>
<text x="551.50" y="997.80" font-size="16.5" style="font-family:'Liberation Serif';">&#931;</text>
<text x="546.11" y="972.40" font-size="25.8" style="font-family:'Liberation Serif';font-style:italic;">u</text>
<text x="559.43" y="978.00" font-size="16.2" style="font-family:'Liberation Serif';font-style:italic;">Cq</text>
<text x="561.50" y="959.20" font-size="16.5" style="font-family:'Liberation Serif';">&#931;</text>
<text x="569.51" y="916.10" font-size="25.8" style="font-family:'Liberation Serif';font-style:italic;">u</text>
<text x="582.53" y="923.40" font-size="16.2" style="font-family:'Liberation Serif';font-style:italic;">C<tspan style="font-style:normal">0</tspan></text>
<text x="584.90" y="904.70" font-size="16.5" style="font-family:'Liberation Serif';">&#931;</text>
<text x="593.36" y="1007.00" font-size="25.8" style="font-family:'Liberation Serif';font-style:italic;">x</text>
<text x="605.75" y="1014.80" font-size="16.2" style="font-family:'Liberation Serif';font-style:italic;">m<tspan style="font-style:normal">1</tspan></text>
<text x="610.06" y="1032.00" font-size="25.8" style="font-family:'Liberation Serif';font-style:italic;">x</text>
<text x="622.55" y="1039.30" font-size="16.2" style="font-family:'Liberation Serif';font-style:italic;">m<tspan style="font-style:normal">2</tspan></text>
<rect x="1159.29" y="826.70" width="11.50" height="215.70"/>
<rect x="1173.46" y="826.00" width="11.50" height="216.40"/>
<rect x="1201.80" y="1038.70" width="11.50" height="3.70"/>
<rect x="1215.97" y="1038.70" width="11.50" height="3.70"/>
<rect x="1244.31" y="1040.20" width="11.50" height="2.20"/>
<rect x="1258.48" y="1026.30" width="11.50" height="16.10"/>
<rect x="1272.65" y="1026.30" width="11.50" height="16.10"/>
<rect x="1357.67" y="1038.70" width="11.50" height="3.70"/>
<rect x="1371.84" y="1038.70" width="11.50" height="3.70"/>
<rect x="845.80" y="801.80" width="541.70" height="240.60" fill="none" stroke="#000" stroke-width="2.6"/>
<line x1="844.50" y1="1042.40" x2="1388.80" y2="1042.40" stroke="#000" stroke-width="3.2"/>
<text x="822.50" y="1052.20" font-size="28.2" style="font-family:'Liberation Serif';font-weight:bold;" text-anchor="end">0</text>
<line x1="845.80" y1="993.50" x2="854.30" y2="993.50" stroke="#000" stroke-width="1.3"/>
<text x="822.50" y="1004.00" font-size="28.2" style="font-family:'Liberation Serif';font-weight:bold;" text-anchor="end">0.1</text>
<line x1="845.80" y1="945.30" x2="854.30" y2="945.30" stroke="#000" stroke-width="1.3"/>
<text x="822.50" y="955.80" font-size="28.2" style="font-family:'Liberation Serif';font-weight:bold;" text-anchor="end">0.2</text>
<line x1="845.80" y1="897.10" x2="854.30" y2="897.10" stroke="#000" stroke-width="1.3"/>
<text x="822.50" y="907.60" font-size="28.2" style="font-family:'Liberation Serif';font-weight:bold;" text-anchor="end">0.3</text>
<line x1="845.80" y1="848.90" x2="854.30" y2="848.90" stroke="#000" stroke-width="1.3"/>
<text x="822.50" y="859.40" font-size="28.2" style="font-family:'Liberation Serif';font-weight:bold;" text-anchor="end">0.4</text>
<text x="822.50" y="811.20" font-size="28.2" style="font-family:'Liberation Serif';font-weight:bold;" text-anchor="end">0.5</text>
<text x="853.10" y="1085.30" font-size="28.5" style="font-family:'Liberation Serif';font-weight:bold;" text-anchor="middle">1</text>
<text x="924.10" y="1085.30" font-size="28.5" style="font-family:'Liberation Serif';font-weight:bold;" text-anchor="middle">6</text>
<text x="995.10" y="1085.30" font-size="28.5" style="font-family:'Liberation Serif';font-weight:bold;" text-anchor="middle">11</text>
<text x="1066.10" y="1085.30" font-size="28.5" style="font-family:'Liberation Serif';font-weight:bold;" text-anchor="middle">16</text>
<text x="1137.10" y="1085.30" font-size="28.5" style="font-family:'Liberation Serif';font-weight:bold;" text-anchor="middle">21</text>
<text x="1208.10" y="1085.30" font-size="28.5" style="font-family:'Liberation Serif';font-weight:bold;" text-anchor="middle">26</text>
<text x="1279.10" y="1085.30" font-size="28.5" style="font-family:'Liberation Serif';font-weight:bold;" text-anchor="middle">31</text>
<text x="1350.10" y="1085.30" font-size="28.5" style="font-family:'Liberation Serif';font-weight:bold;" text-anchor="middle">36</text>
<line x1="1097.50" y1="801.80" x2="1097.50" y2="1042.40" stroke="#000" stroke-width="2.2" stroke-linecap="round" stroke-dasharray="11.9 8.96" stroke-dashoffset="19.22"/>
<text x="728.10" y="806.70" font-size="45" style="font-family:'Liberation Sans';font-weight:bold;">F</text>
<text transform="translate(778.90,918.30) rotate(-90)" x="0" y="0" font-size="27.3" text-anchor="middle" style="font-family:'Liberation Serif'">Participation factor</text>
<text x="865.00" y="820.50" font-size="21" style="font-family:'Liberation Serif';">Offshore wind farm</text>
<text x="1367.60" y="820.00" font-size="21" style="font-family:'Liberation Serif';" text-anchor="end">MMC system</text>
<text x="1063.30" y="1105.80" font-size="21" style="font-family:'Liberation Serif';">State variables</text>
<text x="1038.60" y="1136.60" font-size="21" style="font-family:'Liberation Serif';">oscillation mode</text>
<g transform="translate(1184.00,1139.00) scale(1.000)"><path d="M 6.3 -15.9 C 6.7 -18.5, 8.7 -19.8, 10.3 -19.3 C 12.0 -18.7, 12.3 -16.0, 11.8 -12.6 C 11.2 -8.6, 10.1 -5.0, 10.5 -2.3 C 10.9 0.1, 13.2 -0.1, 15.2 -3.9" fill="none" stroke="#000" stroke-width="1.6" stroke-linecap="round"/><path d="M 9.9 -13.3 L 12.2 -11.5 L 2.1 -0.1 L -0.1 -0.1 L 0.1 -0.9 Z" fill="#000"/><circle cx="6.3" cy="-15.8" r="1.05" fill="#000"/></g>
<text x="1199.00" y="1146.30" font-size="16.5" style="font-family:'Liberation Serif';" textLength="31.8" lengthAdjust="spacingAndGlyphs">11,12</text>
<text x="1136.55" y="831.30" font-size="25.8" style="font-family:'Liberation Serif';font-style:italic;">i</text>
<text x="1143.11" y="838.40" font-size="16.2" style="font-family:'Liberation Serif';font-style:italic;">d</text>
<text x="1146.00" y="818.40" font-size="16.5" style="font-family:'Liberation Serif';">&#931;</text>
<text x="1190.85" y="831.30" font-size="25.8" style="font-family:'Liberation Serif';font-style:italic;">i</text>
<text x="1197.31" y="837.50" font-size="16.2" style="font-family:'Liberation Serif';font-style:italic;">q</text>
<text x="1200.70" y="818.40" font-size="16.5" style="font-family:'Liberation Serif';">&#931;</text>
<text x="1184.61" y="1028.70" font-size="25.8" style="font-family:'Liberation Serif';font-style:italic;">u</text>
<text x="1197.93" y="1035.20" font-size="16.2" style="font-family:'Liberation Serif';font-style:italic;">Cd</text>
<text x="1200.70" y="1017.00" font-size="16.5" style="font-family:'Liberation Serif';">&#916;</text>
<text x="1217.11" y="1028.70" font-size="25.8" style="font-family:'Liberation Serif';font-style:italic;">u</text>
<text x="1230.43" y="1034.00" font-size="16.2" style="font-family:'Liberation Serif';font-style:italic;">Cq</text>
<text x="1233.20" y="1017.00" font-size="16.5" style="font-family:'Liberation Serif';">&#916;</text>
<text x="1244.91" y="1013.50" font-size="25.8" style="font-family:'Liberation Serif';font-style:italic;">u</text>
<text x="1258.63" y="1021.00" font-size="16.2" style="font-family:'Liberation Serif';font-style:italic;">Cd</text>
<text x="1260.30" y="1001.80" font-size="16.5" style="font-family:'Liberation Serif';">&#931;</text>
<text x="1277.91" y="1013.50" font-size="25.8" style="font-family:'Liberation Serif';font-style:italic;">u</text>
<text x="1290.13" y="1020.00" font-size="16.2" style="font-family:'Liberation Serif';font-style:italic;">Cq</text>
<text x="1292.90" y="1001.80" font-size="16.5" style="font-family:'Liberation Serif';">&#931;</text>
<text x="1340.16" y="1027.20" font-size="25.8" style="font-family:'Liberation Serif';font-style:italic;">x</text>
<text x="1351.93" y="1033.00" font-size="16.2" style="font-family:'Liberation Serif';font-style:italic;"><tspan style="font-style:normal">5</tspan></text>
<text x="1365.16" y="1027.20" font-size="25.8" style="font-family:'Liberation Serif';font-style:italic;">x</text>
<text x="1377.25" y="1033.00" font-size="16.2" style="font-family:'Liberation Serif';font-style:italic;"><tspan style="font-style:normal">6</tspan></text>
<rect x="447.97" y="1423.80" width="11.70" height="24.00"/>
<rect x="462.38" y="1423.40" width="11.70" height="24.40"/>
<rect x="491.20" y="1445.00" width="11.70" height="2.80"/>
<rect x="505.61" y="1445.70" width="11.70" height="2.10"/>
<rect x="520.02" y="1249.00" width="11.70" height="198.80"/>
<rect x="534.43" y="1248.40" width="11.70" height="199.40"/>
<rect x="548.84" y="1433.90" width="11.70" height="13.90"/>
<rect x="563.25" y="1431.60" width="11.70" height="16.20"/>
<rect x="128.70" y="1192.80" width="549.20" height="255.00" fill="none" stroke="#000" stroke-width="2.6"/>
<line x1="127.40" y1="1447.80" x2="679.20" y2="1447.80" stroke="#000" stroke-width="3.2"/>
<text x="106.40" y="1458.70" font-size="28.2" style="font-family:'Liberation Serif';font-weight:bold;" text-anchor="end">0</text>
<line x1="128.70" y1="1399.25" x2="137.20" y2="1399.25" stroke="#000" stroke-width="1.3"/>
<text x="106.40" y="1409.75" font-size="28.2" style="font-family:'Liberation Serif';font-weight:bold;" text-anchor="end">0.1</text>
<line x1="128.70" y1="1350.30" x2="137.20" y2="1350.30" stroke="#000" stroke-width="1.3"/>
<text x="106.40" y="1360.80" font-size="28.2" style="font-family:'Liberation Serif';font-weight:bold;" text-anchor="end">0.2</text>
<line x1="128.70" y1="1301.35" x2="137.20" y2="1301.35" stroke="#000" stroke-width="1.3"/>
<text x="106.40" y="1311.85" font-size="28.2" style="font-family:'Liberation Serif';font-weight:bold;" text-anchor="end">0.3</text>
<line x1="128.70" y1="1252.40" x2="137.20" y2="1252.40" stroke="#000" stroke-width="1.3"/>
<text x="106.40" y="1262.90" font-size="28.2" style="font-family:'Liberation Serif';font-weight:bold;" text-anchor="end">0.4</text>
<line x1="128.70" y1="1203.45" x2="137.20" y2="1203.45" stroke="#000" stroke-width="1.3"/>
<text x="106.40" y="1213.95" font-size="28.2" style="font-family:'Liberation Serif';font-weight:bold;" text-anchor="end">0.5</text>
<text x="137.30" y="1491.40" font-size="28.5" style="font-family:'Liberation Serif';font-weight:bold;" text-anchor="middle">1</text>
<text x="209.45" y="1491.40" font-size="28.5" style="font-family:'Liberation Serif';font-weight:bold;" text-anchor="middle">6</text>
<text x="281.60" y="1491.40" font-size="28.5" style="font-family:'Liberation Serif';font-weight:bold;" text-anchor="middle">11</text>
<text x="353.75" y="1491.40" font-size="28.5" style="font-family:'Liberation Serif';font-weight:bold;" text-anchor="middle">16</text>
<text x="425.90" y="1491.40" font-size="28.5" style="font-family:'Liberation Serif';font-weight:bold;" text-anchor="middle">21</text>
<text x="498.05" y="1491.40" font-size="28.5" style="font-family:'Liberation Serif';font-weight:bold;" text-anchor="middle">26</text>
<text x="570.20" y="1491.40" font-size="28.5" style="font-family:'Liberation Serif';font-weight:bold;" text-anchor="middle">31</text>
<text x="642.35" y="1491.40" font-size="28.5" style="font-family:'Liberation Serif';font-weight:bold;" text-anchor="middle">36</text>
<line x1="385.20" y1="1192.80" x2="385.20" y2="1447.80" stroke="#000" stroke-width="2.2" stroke-linecap="round" stroke-dasharray="11.9 8.96" stroke-dashoffset="7.76"/>
<text x="-0.80" y="1207.00" font-size="45" style="font-family:'Liberation Sans';font-weight:bold;">G</text>
<text transform="translate(61.10,1315.20) rotate(-90)" x="0" y="0" font-size="28" text-anchor="middle" style="font-family:'Liberation Serif'">Participation factor</text>
<text x="148.80" y="1215.30" font-size="21" style="font-family:'Liberation Serif';">Offshore wind farm</text>
<text x="658.30" y="1215.00" font-size="21" style="font-family:'Liberation Serif';" text-anchor="end">MMC system</text>
<text x="350.80" y="1506.80" font-size="21" style="font-family:'Liberation Serif';">State variables</text>
<text x="327.00" y="1537.90" font-size="21" style="font-family:'Liberation Serif';">oscillation mode</text>
<g transform="translate(479.70,1533.00) scale(1.000)"><path d="M 6.3 -15.9 C 6.7 -18.5, 8.7 -19.8, 10.3 -19.3 C 12.0 -18.7, 12.3 -16.0, 11.8 -12.6 C 11.2 -8.6, 10.1 -5.0, 10.5 -2.3 C 10.9 0.1, 13.2 -0.1, 15.2 -3.9" fill="none" stroke="#000" stroke-width="1.6" stroke-linecap="round"/><path d="M 9.9 -13.3 L 12.2 -11.5 L 2.1 -0.1 L -0.1 -0.1 L 0.1 -0.9 Z" fill="#000"/><circle cx="6.3" cy="-15.8" r="1.05" fill="#000"/></g>
<text x="494.20" y="1540.50" font-size="16.5" style="font-family:'Liberation Serif';" textLength="32.6" lengthAdjust="spacingAndGlyphs">13,14</text>
<text x="474.41" y="1256.60" font-size="25.8" style="font-family:'Liberation Serif';font-style:italic;">u</text>
<text x="487.43" y="1264.40" font-size="16.2" style="font-family:'Liberation Serif';font-style:italic;">C<tspan style="font-style:normal">0</tspan></text>
<text x="508.70" y="1268.80" font-size="12.5" style="font-family:'Liberation Serif';font-style:italic;">d</text>
<text x="490.20" y="1245.20" font-size="16.5" style="font-family:'Liberation Serif';">&#916;</text>
<text x="546.61" y="1256.50" font-size="25.8" style="font-family:'Liberation Serif';font-style:italic;">u</text>
<text x="560.23" y="1264.00" font-size="16.2" style="font-family:'Liberation Serif';font-style:italic;">C<tspan style="font-style:normal">0</tspan></text>
<text x="581.60" y="1266.00" font-size="12.5" style="font-family:'Liberation Serif';font-style:italic;">q</text>
<text x="563.70" y="1244.00" font-size="16.5" style="font-family:'Liberation Serif';">&#916;</text>
<text x="441.25" y="1413.60" font-size="25.8" style="font-family:'Liberation Serif';font-style:italic;">i</text>
<text x="447.81" y="1421.40" font-size="16.2" style="font-family:'Liberation Serif';font-style:italic;">d</text>
<text x="450.80" y="1401.60" font-size="16.5" style="font-family:'Liberation Serif';">&#931;</text>
<text x="461.25" y="1413.60" font-size="25.8" style="font-family:'Liberation Serif';font-style:italic;">i</text>
<text x="468.51" y="1420.00" font-size="16.2" style="font-family:'Liberation Serif';font-style:italic;">q</text>
<text x="470.90" y="1401.60" font-size="16.5" style="font-family:'Liberation Serif';">&#931;</text>
<text x="546.61" y="1399.20" font-size="25.8" style="font-family:'Liberation Serif';font-style:italic;">u</text>
<text x="559.83" y="1404.70" font-size="16.2" style="font-family:'Liberation Serif';font-style:italic;">Cd</text>
<text x="561.50" y="1384.90" font-size="16.5" style="font-family:'Liberation Serif';">&#931;</text>
<text x="564.01" y="1428.00" font-size="25.8" style="font-family:'Liberation Serif';font-style:italic;">u</text>
<text x="577.23" y="1433.50" font-size="16.2" style="font-family:'Liberation Serif';font-style:italic;">Cq</text>
<text x="579.30" y="1413.80" font-size="16.5" style="font-family:'Liberation Serif';">&#931;</text>
<rect x="1157.09" y="1446.00" width="11.70" height="2.30"/>
<rect x="1171.56" y="1446.50" width="11.70" height="1.80"/>
<rect x="1186.03" y="1299.90" width="11.70" height="148.40"/>
<rect x="1200.50" y="1230.20" width="11.70" height="218.10"/>
<rect x="1214.97" y="1295.20" width="11.70" height="153.10"/>
<rect x="1258.38" y="1445.60" width="11.70" height="2.70"/>
<rect x="1272.85" y="1444.60" width="11.70" height="3.70"/>
<rect x="1287.32" y="1366.00" width="11.70" height="82.30"/>
<rect x="837.80" y="1202.50" width="550.90" height="245.80" fill="none" stroke="#000" stroke-width="2.6"/>
<line x1="836.50" y1="1448.30" x2="1390.00" y2="1448.30" stroke="#000" stroke-width="3.2"/>
<text x="814.80" y="1458.30" font-size="28.2" style="font-family:'Liberation Serif';font-weight:bold;" text-anchor="end">0</text>
<line x1="837.80" y1="1386.75" x2="846.30" y2="1386.75" stroke="#000" stroke-width="1.3"/>
<text x="814.80" y="1397.25" font-size="28.2" style="font-family:'Liberation Serif';font-weight:bold;" text-anchor="end">0.1</text>
<line x1="837.80" y1="1325.70" x2="846.30" y2="1325.70" stroke="#000" stroke-width="1.3"/>
<text x="814.80" y="1336.20" font-size="28.2" style="font-family:'Liberation Serif';font-weight:bold;" text-anchor="end">0.2</text>
<line x1="837.80" y1="1264.65" x2="846.30" y2="1264.65" stroke="#000" stroke-width="1.3"/>
<text x="814.80" y="1275.15" font-size="28.2" style="font-family:'Liberation Serif';font-weight:bold;" text-anchor="end">0.3</text>
<text x="814.80" y="1214.10" font-size="28.2" style="font-family:'Liberation Serif';font-weight:bold;" text-anchor="end">0.4</text>
<text x="845.10" y="1491.90" font-size="28.5" style="font-family:'Liberation Serif';font-weight:bold;" text-anchor="middle">1</text>
<text x="917.50" y="1491.90" font-size="28.5" style="font-family:'Liberation Serif';font-weight:bold;" text-anchor="middle">6</text>
<text x="989.90" y="1491.90" font-size="28.5" style="font-family:'Liberation Serif';font-weight:bold;" text-anchor="middle">11</text>
<text x="1062.30" y="1491.90" font-size="28.5" style="font-family:'Liberation Serif';font-weight:bold;" text-anchor="middle">16</text>
<text x="1134.70" y="1491.90" font-size="28.5" style="font-family:'Liberation Serif';font-weight:bold;" text-anchor="middle">21</text>
<text x="1207.10" y="1491.90" font-size="28.5" style="font-family:'Liberation Serif';font-weight:bold;" text-anchor="middle">26</text>
<text x="1279.50" y="1491.90" font-size="28.5" style="font-family:'Liberation Serif';font-weight:bold;" text-anchor="middle">31</text>
<text x="1351.90" y="1491.90" font-size="28.5" style="font-family:'Liberation Serif';font-weight:bold;" text-anchor="middle">36</text>
<line x1="1094.10" y1="1202.50" x2="1094.10" y2="1448.30" stroke="#000" stroke-width="2.2" stroke-linecap="round" stroke-dasharray="11.9 8.96" stroke-dashoffset="19.02"/>
<text x="724.20" y="1202.20" font-size="45" style="font-family:'Liberation Sans';font-weight:bold;">H</text>
<text transform="translate(769.80,1322.60) rotate(-90)" x="0" y="0" font-size="28" text-anchor="middle" style="font-family:'Liberation Serif'">Participation factor</text>
<text x="858.00" y="1222.10" font-size="21" style="font-family:'Liberation Serif';">Offshore wind farm</text>
<text x="1370.10" y="1222.30" font-size="21" style="font-family:'Liberation Serif';" text-anchor="end">MMC system</text>
<text x="1060.80" y="1513.30" font-size="21" style="font-family:'Liberation Serif';">State variables</text>
<text x="1036.70" y="1544.10" font-size="21" style="font-family:'Liberation Serif';">oscillation mode</text>
<g transform="translate(1183.60,1545.00) scale(1.000)"><path d="M 6.3 -15.9 C 6.7 -18.5, 8.7 -19.8, 10.3 -19.3 C 12.0 -18.7, 12.3 -16.0, 11.8 -12.6 C 11.2 -8.6, 10.1 -5.0, 10.5 -2.3 C 10.9 0.1, 13.2 -0.1, 15.2 -3.9" fill="none" stroke="#000" stroke-width="1.6" stroke-linecap="round"/><path d="M 9.9 -13.3 L 12.2 -11.5 L 2.1 -0.1 L -0.1 -0.1 L 0.1 -0.9 Z" fill="#000"/><circle cx="6.3" cy="-15.8" r="1.05" fill="#000"/></g>
<text x="1197.00" y="1553.50" font-size="16.5" style="font-family:'Liberation Serif';" textLength="34.3" lengthAdjust="spacingAndGlyphs">15,16</text>
<text x="1169.65" y="1287.80" font-size="25.8" style="font-family:'Liberation Serif';font-style:italic;">i</text>
<text x="1176.55" y="1294.50" font-size="16.2" style="font-family:'Liberation Serif';font-style:italic;"><tspan style="font-style:normal">0</tspan></text>
<text x="1178.60" y="1275.20" font-size="16.5" style="font-family:'Liberation Serif';">&#931;</text>
<text x="1204.21" y="1230.20" font-size="25.8" style="font-family:'Liberation Serif';font-style:italic;">u</text>
<text x="1217.23" y="1236.90" font-size="16.2" style="font-family:'Liberation Serif';font-style:italic;">Cd</text>
<text x="1220.10" y="1218.10" font-size="16.5" style="font-family:'Liberation Serif';">&#916;</text>
<text x="1219.51" y="1285.70" font-size="25.8" style="font-family:'Liberation Serif';font-style:italic;">u</text>
<text x="1233.33" y="1293.30" font-size="16.2" style="font-family:'Liberation Serif';font-style:italic;">Cq</text>
<text x="1236.00" y="1273.70" font-size="16.5" style="font-family:'Liberation Serif';">&#916;</text>
<text x="1277.41" y="1355.00" font-size="25.8" style="font-family:'Liberation Serif';font-style:italic;">u</text>
<text x="1290.53" y="1362.40" font-size="16.2" style="font-family:'Liberation Serif';font-style:italic;">C<tspan style="font-style:normal">0</tspan></text>
<text x="1292.90" y="1342.90" font-size="16.5" style="font-family:'Liberation Serif';">&#931;</text>
<rect x="448.67" y="1845.20" width="11.90" height="3.10"/>
<rect x="463.13" y="1844.70" width="11.90" height="3.60"/>
<rect x="477.59" y="1694.60" width="11.90" height="153.70"/>
<rect x="492.05" y="1762.00" width="11.90" height="86.30"/>
<rect x="506.51" y="1696.20" width="11.90" height="152.10"/>
<rect x="578.81" y="1626.80" width="11.90" height="221.50"/>
<rect x="173.93" y="1845.80" width="11.90" height="2.50"/>
<rect x="188.39" y="1845.80" width="11.90" height="2.50"/>
<rect x="202.85" y="1845.80" width="11.90" height="2.50"/>
<rect x="217.31" y="1845.80" width="11.90" height="2.50"/>
<rect x="231.77" y="1845.80" width="11.90" height="2.50"/>
<rect x="246.23" y="1845.80" width="11.90" height="2.50"/>
<rect x="260.69" y="1845.80" width="11.90" height="2.50"/>
<rect x="347.45" y="1845.80" width="11.90" height="2.50"/>
<rect x="361.91" y="1845.80" width="11.90" height="2.50"/>
<rect x="376.37" y="1845.80" width="11.90" height="2.50"/>
<rect x="390.83" y="1845.80" width="11.90" height="2.50"/>
<rect x="405.29" y="1845.80" width="11.90" height="2.50"/>
<rect x="419.75" y="1845.80" width="11.90" height="2.50"/>
<rect x="434.21" y="1845.80" width="11.90" height="2.50"/>
<rect x="520.97" y="1845.80" width="11.90" height="2.50"/>
<rect x="535.43" y="1845.80" width="11.90" height="2.50"/>
<rect x="549.89" y="1845.80" width="11.90" height="2.50"/>
<rect x="564.35" y="1845.80" width="11.90" height="2.50"/>
<rect x="593.27" y="1845.80" width="11.90" height="2.50"/>
<rect x="607.73" y="1845.80" width="11.90" height="2.50"/>
<rect x="622.19" y="1845.80" width="11.90" height="2.50"/>
<rect x="636.65" y="1845.80" width="11.90" height="2.50"/>
<rect x="651.11" y="1845.80" width="11.90" height="2.50"/>
<rect x="665.57" y="1845.80" width="11.90" height="2.50"/>
<rect x="128.10" y="1597.20" width="551.60" height="251.10" fill="none" stroke="#000" stroke-width="2.6"/>
<line x1="126.80" y1="1848.30" x2="681.00" y2="1848.30" stroke="#000" stroke-width="3.2"/>
<text x="105.70" y="1858.50" font-size="28.2" style="font-family:'Liberation Serif';font-weight:bold;" text-anchor="end">0</text>
<line x1="128.10" y1="1786.00" x2="136.60" y2="1786.00" stroke="#000" stroke-width="1.3"/>
<text x="105.70" y="1796.50" font-size="28.2" style="font-family:'Liberation Serif';font-weight:bold;" text-anchor="end">0.1</text>
<line x1="128.10" y1="1724.00" x2="136.60" y2="1724.00" stroke="#000" stroke-width="1.3"/>
<text x="105.70" y="1734.50" font-size="28.2" style="font-family:'Liberation Serif';font-weight:bold;" text-anchor="end">0.2</text>
<line x1="128.10" y1="1662.00" x2="136.60" y2="1662.00" stroke="#000" stroke-width="1.3"/>
<text x="105.70" y="1672.50" font-size="28.2" style="font-family:'Liberation Serif';font-weight:bold;" text-anchor="end">0.3</text>
<line x1="128.10" y1="1600.00" x2="136.60" y2="1600.00" stroke="#000" stroke-width="1.3"/>
<text x="105.70" y="1610.50" font-size="28.2" style="font-family:'Liberation Serif';font-weight:bold;" text-anchor="end">0.4</text>
<text x="136.60" y="1892.30" font-size="28.5" style="font-family:'Liberation Serif';font-weight:bold;" text-anchor="middle">1</text>
<text x="208.95" y="1892.30" font-size="28.5" style="font-family:'Liberation Serif';font-weight:bold;" text-anchor="middle">6</text>
<text x="281.30" y="1892.30" font-size="28.5" style="font-family:'Liberation Serif';font-weight:bold;" text-anchor="middle">11</text>
<text x="353.65" y="1892.30" font-size="28.5" style="font-family:'Liberation Serif';font-weight:bold;" text-anchor="middle">16</text>
<text x="426.00" y="1892.30" font-size="28.5" style="font-family:'Liberation Serif';font-weight:bold;" text-anchor="middle">21</text>
<text x="498.35" y="1892.30" font-size="28.5" style="font-family:'Liberation Serif';font-weight:bold;" text-anchor="middle">26</text>
<text x="570.70" y="1892.30" font-size="28.5" style="font-family:'Liberation Serif';font-weight:bold;" text-anchor="middle">31</text>
<text x="643.05" y="1892.30" font-size="28.5" style="font-family:'Liberation Serif';font-weight:bold;" text-anchor="middle">36</text>
<line x1="384.30" y1="1597.20" x2="384.30" y2="1848.30" stroke="#000" stroke-width="2.2" stroke-linecap="round" stroke-dasharray="12.1 8.9" stroke-dashoffset="14.80"/>
<text x="20.00" y="1586.20" font-size="45" style="font-family:'Liberation Sans';font-weight:bold;">I</text>
<text transform="translate(59.90,1719.40) rotate(-90)" x="0" y="0" font-size="28" text-anchor="middle" style="font-family:'Liberation Serif'">Participation factor</text>
<text x="148.30" y="1619.40" font-size="21" style="font-family:'Liberation Serif';">Offshore wind farm</text>
<text x="659.50" y="1619.40" font-size="21" style="font-family:'Liberation Serif';" text-anchor="end">MMC system</text>
<text x="350.80" y="1913.70" font-size="21" style="font-family:'Liberation Serif';">State variables</text>
<text x="325.20" y="1945.10" font-size="21" style="font-family:'Liberation Serif';">oscillation mode</text>
<g transform="translate(473.60,1944.50) scale(1.000)"><path d="M 6.3 -15.9 C 6.7 -18.5, 8.7 -19.8, 10.3 -19.3 C 12.0 -18.7, 12.3 -16.0, 11.8 -12.6 C 11.2 -8.6, 10.1 -5.0, 10.5 -2.3 C 10.9 0.1, 13.2 -0.1, 15.2 -3.9" fill="none" stroke="#000" stroke-width="1.6" stroke-linecap="round"/><path d="M 9.9 -13.3 L 12.2 -11.5 L 2.1 -0.1 L -0.1 -0.1 L 0.1 -0.9 Z" fill="#000"/><circle cx="6.3" cy="-15.8" r="1.05" fill="#000"/></g>
<text x="486.60" y="1951.50" font-size="16.5" style="font-family:'Liberation Serif';" textLength="34.7" lengthAdjust="spacingAndGlyphs">17,18</text>
<text x="454.35" y="1722.00" font-size="25.8" style="font-family:'Liberation Serif';font-style:italic;">i</text>
<text x="461.25" y="1728.90" font-size="16.2" style="font-family:'Liberation Serif';font-style:italic;"><tspan style="font-style:normal">0</tspan></text>
<text x="464.30" y="1709.50" font-size="16.5" style="font-family:'Liberation Serif';">&#931;</text>
<text x="481.31" y="1682.40" font-size="25.8" style="font-family:'Liberation Serif';font-style:italic;">u</text>
<text x="494.73" y="1689.10" font-size="16.2" style="font-family:'Liberation Serif';font-style:italic;">Cd</text>
<text x="497.60" y="1669.30" font-size="16.5" style="font-family:'Liberation Serif';">&#916;</text>
<text x="520.41" y="1722.70" font-size="25.8" style="font-family:'Liberation Serif';font-style:italic;">u</text>
<text x="533.13" y="1727.00" font-size="16.2" style="font-family:'Liberation Serif';font-style:italic;">Cq</text>
<text x="536.00" y="1708.40" font-size="16.5" style="font-family:'Liberation Serif';">&#916;</text>
<text x="591.61" y="1656.50" font-size="25.8" style="font-family:'Liberation Serif';font-style:italic;">u</text>
<text x="605.03" y="1663.80" font-size="16.2" style="font-family:'Liberation Serif';font-style:italic;">C<tspan style="font-style:normal">0</tspan></text>
<text x="607.90" y="1643.60" font-size="16.5" style="font-family:'Liberation Serif';">&#931;</text>
<rect x="895.19" y="1616.20" width="11.00" height="232.30"/>
<rect x="909.32" y="1702.70" width="11.00" height="145.80"/>
<rect x="965.84" y="1844.20" width="11.00" height="4.30"/>
<rect x="1064.75" y="1616.20" width="11.00" height="232.30"/>
<rect x="1078.88" y="1803.30" width="11.00" height="45.20"/>
<rect x="1107.14" y="1814.30" width="11.00" height="34.20"/>
<rect x="1135.40" y="1763.30" width="11.00" height="85.20"/>
<rect x="1304.96" y="1821.70" width="11.00" height="26.80"/>
<rect x="1319.09" y="1819.70" width="11.00" height="28.80"/>
<rect x="923.45" y="1846.00" width="11.00" height="2.50"/>
<rect x="937.58" y="1846.00" width="11.00" height="2.50"/>
<rect x="951.71" y="1846.00" width="11.00" height="2.50"/>
<rect x="979.97" y="1846.00" width="11.00" height="2.50"/>
<rect x="1093.01" y="1846.00" width="11.00" height="2.50"/>
<rect x="1121.27" y="1846.00" width="11.00" height="2.50"/>
<rect x="1149.53" y="1846.00" width="11.00" height="2.50"/>
<rect x="1163.66" y="1846.00" width="11.00" height="2.50"/>
<rect x="1177.79" y="1846.00" width="11.00" height="2.50"/>
<rect x="1191.92" y="1846.00" width="11.00" height="2.50"/>
<rect x="1206.05" y="1846.00" width="11.00" height="2.50"/>
<rect x="1220.18" y="1846.00" width="11.00" height="2.50"/>
<rect x="1234.31" y="1846.00" width="11.00" height="2.50"/>
<rect x="1248.44" y="1846.00" width="11.00" height="2.50"/>
<rect x="1262.57" y="1846.00" width="11.00" height="2.50"/>
<rect x="1276.70" y="1846.00" width="11.00" height="2.50"/>
<rect x="1290.83" y="1846.00" width="11.00" height="2.50"/>
<rect x="1333.22" y="1846.00" width="11.00" height="2.50"/>
<rect x="1347.35" y="1846.00" width="11.00" height="2.50"/>
<rect x="1361.48" y="1846.00" width="11.00" height="2.50"/>
<rect x="1375.61" y="1846.00" width="11.00" height="2.50"/>
<rect x="851.40" y="1580.80" width="538.60" height="267.70" fill="none" stroke="#000" stroke-width="2.6"/>
<line x1="850.10" y1="1848.50" x2="1391.30" y2="1848.50" stroke="#000" stroke-width="3.2"/>
<text x="828.40" y="1857.10" font-size="28.2" style="font-family:'Liberation Serif';font-weight:bold;" text-anchor="end">0</text>
<line x1="851.40" y1="1805.54" x2="859.90" y2="1805.54" stroke="#000" stroke-width="1.3"/>
<text x="828.40" y="1816.04" font-size="28.2" style="font-family:'Liberation Serif';font-weight:bold;" text-anchor="end">0.05</text>
<line x1="851.40" y1="1764.48" x2="859.90" y2="1764.48" stroke="#000" stroke-width="1.3"/>
<text x="828.40" y="1774.98" font-size="28.2" style="font-family:'Liberation Serif';font-weight:bold;" text-anchor="end">0.1</text>
<line x1="851.40" y1="1723.42" x2="859.90" y2="1723.42" stroke="#000" stroke-width="1.3"/>
<text x="828.40" y="1733.92" font-size="28.2" style="font-family:'Liberation Serif';font-weight:bold;" text-anchor="end">0.15</text>
<line x1="851.40" y1="1682.36" x2="859.90" y2="1682.36" stroke="#000" stroke-width="1.3"/>
<text x="828.40" y="1692.86" font-size="28.2" style="font-family:'Liberation Serif';font-weight:bold;" text-anchor="end">0.2</text>
<line x1="851.40" y1="1641.30" x2="859.90" y2="1641.30" stroke="#000" stroke-width="1.3"/>
<text x="828.40" y="1651.80" font-size="28.2" style="font-family:'Liberation Serif';font-weight:bold;" text-anchor="end">0.25</text>
<line x1="851.40" y1="1600.24" x2="859.90" y2="1600.24" stroke="#000" stroke-width="1.3"/>
<text x="828.40" y="1610.74" font-size="28.2" style="font-family:'Liberation Serif';font-weight:bold;" text-anchor="end">0.3</text>
<text x="859.30" y="1890.50" font-size="28.5" style="font-family:'Liberation Serif';font-weight:bold;" text-anchor="middle">1</text>
<text x="930.00" y="1890.50" font-size="28.5" style="font-family:'Liberation Serif';font-weight:bold;" text-anchor="middle">6</text>
<text x="1000.70" y="1890.50" font-size="28.5" style="font-family:'Liberation Serif';font-weight:bold;" text-anchor="middle">11</text>
<text x="1071.40" y="1890.50" font-size="28.5" style="font-family:'Liberation Serif';font-weight:bold;" text-anchor="middle">16</text>
<text x="1142.10" y="1890.50" font-size="28.5" style="font-family:'Liberation Serif';font-weight:bold;" text-anchor="middle">21</text>
<text x="1212.80" y="1890.50" font-size="28.5" style="font-family:'Liberation Serif';font-weight:bold;" text-anchor="middle">26</text>
<text x="1283.50" y="1890.50" font-size="28.5" style="font-family:'Liberation Serif';font-weight:bold;" text-anchor="middle">31</text>
<text x="1354.20" y="1890.50" font-size="28.5" style="font-family:'Liberation Serif';font-weight:bold;" text-anchor="middle">36</text>
<line x1="1101.70" y1="1580.80" x2="1101.70" y2="1848.50" stroke="#000" stroke-width="2.2" stroke-linecap="round" stroke-dasharray="11.9 8.96" stroke-dashoffset="18.42"/>
<text x="731.10" y="1580.20" font-size="45" style="font-family:'Liberation Sans';font-weight:bold;">J</text>
<text transform="translate(773.10,1710.30) rotate(-90)" x="0" y="0" font-size="27.8" text-anchor="middle" style="font-family:'Liberation Serif'">Participation factor</text>
<text x="867.10" y="1601.60" font-size="21" style="font-family:'Liberation Serif';">Offshore wind farm</text>
<text x="1379.10" y="1601.50" font-size="21" style="font-family:'Liberation Serif';" text-anchor="end">MMC system</text>
<text x="1067.70" y="1911.30" font-size="21" style="font-family:'Liberation Serif';">State variables</text>
<text x="1041.70" y="1943.00" font-size="21" style="font-family:'Liberation Serif';">oscillation mode</text>
<g transform="translate(1193.50,1944.50) scale(1.000)"><path d="M 6.3 -15.9 C 6.7 -18.5, 8.7 -19.8, 10.3 -19.3 C 12.0 -18.7, 12.3 -16.0, 11.8 -12.6 C 11.2 -8.6, 10.1 -5.0, 10.5 -2.3 C 10.9 0.1, 13.2 -0.1, 15.2 -3.9" fill="none" stroke="#000" stroke-width="1.6" stroke-linecap="round"/><path d="M 9.9 -13.3 L 12.2 -11.5 L 2.1 -0.1 L -0.1 -0.1 L 0.1 -0.9 Z" fill="#000"/><circle cx="6.3" cy="-15.8" r="1.05" fill="#000"/></g>
<text x="1207.10" y="1951.50" font-size="16.5" style="font-family:'Liberation Serif';" textLength="36.2" lengthAdjust="spacingAndGlyphs">19,20</text>
<text x="908.41" y="1638.20" font-size="25.8" style="font-family:'Liberation Serif';font-style:italic;">u</text>
<text x="921.91" y="1645.20" font-size="16.2" style="font-family:'Liberation Serif';font-style:italic;">dc</text>
<text x="909.25" y="1690.50" font-size="25.8" style="font-family:'Liberation Serif';font-style:italic;">i</text>
<text x="917.80" y="1694.50" font-size="16.2" style="font-family:'Liberation Serif';font-style:italic;">gd</text>
<text x="1054.86" y="1606.00" font-size="25.8" style="font-family:'Liberation Serif';font-style:italic;">x</text>
<text x="1068.21" y="1613.00" font-size="16.2" style="font-family:'Liberation Serif';font-style:italic;">w<tspan style="font-style:normal">4</tspan></text>
<text x="1079.96" y="1765.00" font-size="25.8" style="font-family:'Liberation Serif';font-style:italic;">x</text>
<text x="1092.31" y="1773.00" font-size="16.2" style="font-family:'Liberation Serif';font-style:italic;">w<tspan style="font-style:normal">5</tspan></text>
<text x="1102.61" y="1802.60" font-size="25.8" style="font-family:'Liberation Serif';font-style:italic;">u</text>
<text x="1118.47" y="1808.50" font-size="16.2" style="font-family:'Liberation Serif';font-style:italic;">pd</text>
<text x="1129.65" y="1753.80" font-size="25.8" style="font-family:'Liberation Serif';font-style:italic;">i</text>
<text x="1137.21" y="1761.00" font-size="16.2" style="font-family:'Liberation Serif';font-style:italic;">d</text>
<text x="1140.30" y="1741.00" font-size="16.5" style="font-family:'Liberation Serif';">&#916;</text>
<text x="1281.56" y="1806.00" font-size="25.8" style="font-family:'Liberation Serif';font-style:italic;">x</text>
<text x="1293.75" y="1812.50" font-size="16.2" style="font-family:'Liberation Serif';font-style:italic;">m<tspan style="font-style:normal">1</tspan></text>
<text x="1318.46" y="1806.00" font-size="25.8" style="font-family:'Liberation Serif';font-style:italic;">x</text>
<text x="1331.05" y="1812.50" font-size="16.2" style="font-family:'Liberation Serif';font-style:italic;">m<tspan style="font-style:normal">2</tspan></text>
<rect x="803.62" y="2259.40" width="12.20" height="29.60"/>
<rect x="818.38" y="2259.40" width="12.20" height="29.60"/>
<rect x="951.22" y="2285.80" width="12.20" height="3.20"/>
<rect x="980.74" y="2285.30" width="12.20" height="3.70"/>
<rect x="1010.26" y="2066.40" width="12.20" height="222.60"/>
<rect x="1025.02" y="2066.40" width="12.20" height="222.60"/>
<rect x="744.58" y="2286.50" width="12.20" height="2.50"/>
<rect x="759.34" y="2286.50" width="12.20" height="2.50"/>
<rect x="774.10" y="2286.50" width="12.20" height="2.50"/>
<rect x="788.86" y="2286.50" width="12.20" height="2.50"/>
<rect x="833.14" y="2286.50" width="12.20" height="2.50"/>
<rect x="847.90" y="2286.50" width="12.20" height="2.50"/>
<rect x="862.66" y="2286.50" width="12.20" height="2.50"/>
<rect x="877.42" y="2286.50" width="12.20" height="2.50"/>
<rect x="892.18" y="2286.50" width="12.20" height="2.50"/>
<rect x="906.94" y="2286.50" width="12.20" height="2.50"/>
<rect x="921.70" y="2286.50" width="12.20" height="2.50"/>
<rect x="936.46" y="2286.50" width="12.20" height="2.50"/>
<rect x="965.98" y="2286.50" width="12.20" height="2.50"/>
<rect x="995.50" y="2286.50" width="12.20" height="2.50"/>
<rect x="477.40" y="2010.90" width="562.90" height="278.10" fill="none" stroke="#000" stroke-width="2.6"/>
<line x1="476.10" y1="2289.00" x2="1041.60" y2="2289.00" stroke="#000" stroke-width="3.2"/>
<text x="454.40" y="2297.10" font-size="28.2" style="font-family:'Liberation Serif';font-weight:bold;" text-anchor="end">0</text>
<line x1="477.40" y1="2236.20" x2="485.90" y2="2236.20" stroke="#000" stroke-width="1.3"/>
<text x="454.40" y="2246.70" font-size="28.2" style="font-family:'Liberation Serif';font-weight:bold;" text-anchor="end">0.1</text>
<line x1="477.40" y1="2185.80" x2="485.90" y2="2185.80" stroke="#000" stroke-width="1.3"/>
<text x="454.40" y="2196.30" font-size="28.2" style="font-family:'Liberation Serif';font-weight:bold;" text-anchor="end">0.2</text>
<line x1="477.40" y1="2135.40" x2="485.90" y2="2135.40" stroke="#000" stroke-width="1.3"/>
<text x="454.40" y="2145.90" font-size="28.2" style="font-family:'Liberation Serif';font-weight:bold;" text-anchor="end">0.3</text>
<line x1="477.40" y1="2085.00" x2="485.90" y2="2085.00" stroke="#000" stroke-width="1.3"/>
<text x="454.40" y="2095.50" font-size="28.2" style="font-family:'Liberation Serif';font-weight:bold;" text-anchor="end">0.4</text>
<line x1="477.40" y1="2034.60" x2="485.90" y2="2034.60" stroke="#000" stroke-width="1.3"/>
<text x="454.40" y="2045.10" font-size="28.2" style="font-family:'Liberation Serif';font-weight:bold;" text-anchor="end">0.5</text>
<text x="485.00" y="2332.00" font-size="29.5" style="font-family:'Liberation Serif';font-weight:bold;" text-anchor="middle">1</text>
<text x="558.90" y="2332.00" font-size="29.5" style="font-family:'Liberation Serif';font-weight:bold;" text-anchor="middle">6</text>
<text x="632.80" y="2332.00" font-size="29.5" style="font-family:'Liberation Serif';font-weight:bold;" text-anchor="middle">11</text>
<text x="706.70" y="2332.00" font-size="29.5" style="font-family:'Liberation Serif';font-weight:bold;" text-anchor="middle">16</text>
<text x="780.60" y="2332.00" font-size="29.5" style="font-family:'Liberation Serif';font-weight:bold;" text-anchor="middle">21</text>
<text x="854.50" y="2332.00" font-size="29.5" style="font-family:'Liberation Serif';font-weight:bold;" text-anchor="middle">26</text>
<text x="928.40" y="2332.00" font-size="29.5" style="font-family:'Liberation Serif';font-weight:bold;" text-anchor="middle">31</text>
<text x="1002.30" y="2332.00" font-size="29.5" style="font-family:'Liberation Serif';font-weight:bold;" text-anchor="middle">36</text>
<line x1="738.40" y1="2010.90" x2="738.40" y2="2289.00" stroke="#000" stroke-width="2.2" stroke-linecap="round" stroke-dasharray="12.5 9.2" stroke-dashoffset="17.10"/>
<text x="328.30" y="2032.30" font-size="45" style="font-family:'Liberation Sans';font-weight:bold;">K</text>
<text transform="translate(411.10,2137.60) rotate(-90)" x="0" y="0" font-size="28.9" text-anchor="middle" style="font-family:'Liberation Serif'">Participation factor</text>
<text x="501.10" y="2034.40" font-size="21.5" style="font-family:'Liberation Serif';">Offshore wind farm</text>
<text x="1023.40" y="2033.70" font-size="21.5" style="font-family:'Liberation Serif';" text-anchor="end">MMC system</text>
<text x="708.30" y="2361.50" font-size="21.2" style="font-family:'Liberation Serif';">State variables</text>
<text x="684.00" y="2393.90" font-size="21.4" style="font-family:'Liberation Serif';">oscillation mode</text>
<g transform="translate(836.10,2396.20) scale(1.000)"><path d="M 6.3 -15.9 C 6.7 -18.5, 8.7 -19.8, 10.3 -19.3 C 12.0 -18.7, 12.3 -16.0, 11.8 -12.6 C 11.2 -8.6, 10.1 -5.0, 10.5 -2.3 C 10.9 0.1, 13.2 -0.1, 15.2 -3.9" fill="none" stroke="#000" stroke-width="1.6" stroke-linecap="round"/><path d="M 9.9 -13.3 L 12.2 -11.5 L 2.1 -0.1 L -0.1 -0.1 L 0.1 -0.9 Z" fill="#000"/><circle cx="6.3" cy="-15.8" r="1.05" fill="#000"/></g>
<text x="850.10" y="2403.50" font-size="16.5" style="font-family:'Liberation Serif';" textLength="36.4" lengthAdjust="spacingAndGlyphs">21,22</text>
<text x="798.25" y="2241.60" font-size="25.8" style="font-family:'Liberation Serif';font-style:italic;">i</text>
<text x="805.41" y="2249.40" font-size="16.2" style="font-family:'Liberation Serif';font-style:italic;">d</text>
<text x="807.40" y="2229.60" font-size="16.5" style="font-family:'Liberation Serif';">&#931;</text>
<text x="820.25" y="2241.60" font-size="25.8" style="font-family:'Liberation Serif';font-style:italic;">i</text>
<text x="827.41" y="2248.00" font-size="16.2" style="font-family:'Liberation Serif';font-style:italic;">q</text>
<text x="829.90" y="2229.60" font-size="16.5" style="font-family:'Liberation Serif';">&#931;</text>
<text x="996.66" y="2058.50" font-size="25.8" style="font-family:'Liberation Serif';font-style:italic;">x</text>
<text x="1008.93" y="2065.40" font-size="16.2" style="font-family:'Liberation Serif';font-style:italic;"><tspan style="font-style:normal">5</tspan></text>
<text x="1018.16" y="2058.50" font-size="25.8" style="font-family:'Liberation Serif';font-style:italic;">x</text>
<text x="1031.15" y="2065.40" font-size="16.2" style="font-family:'Liberation Serif';font-style:italic;"><tspan style="font-style:normal">6</tspan></text>
</svg></body></html>
